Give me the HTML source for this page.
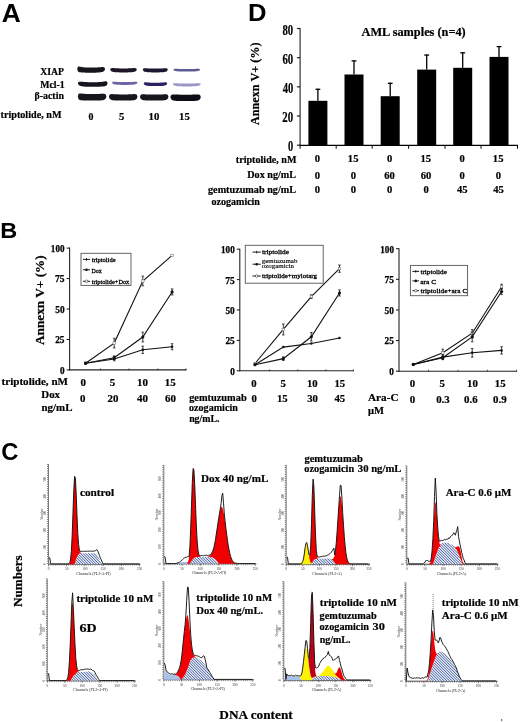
<!DOCTYPE html>
<html><head><meta charset="utf-8"><style>
html,body{margin:0;padding:0;background:#fff;width:520px;height:722px;overflow:hidden}
svg{display:block;will-change:transform}
</style></head><body>
<svg width="520" height="722" viewBox="0 0 520 722">
<defs>
<pattern id="hatch" patternUnits="userSpaceOnUse" width="1.75" height="4" patternTransform="rotate(45)">
<rect width="1.75" height="4" fill="#eaf0fa"/><rect x="0" y="0" width="0.8" height="4" fill="#3a5196"/></pattern>
<filter id="blur05" x="-10%" y="-50%" width="120%" height="200%"><feGaussianBlur stdDeviation="0.45"/></filter>
</defs>
<rect width="520" height="722" fill="#fff"/>
<text x="1.67" y="21.50" font-size="25.73" font-family='"Liberation Sans", sans-serif' font-weight="bold" fill="#000" textLength="19.02" lengthAdjust="spacingAndGlyphs">A</text>
<text x="248.11" y="21.20" font-size="24.71" font-family='"Liberation Sans", sans-serif' font-weight="bold" fill="#000" textLength="18.52" lengthAdjust="spacingAndGlyphs">D</text>
<text x="0.35" y="238.10" font-size="22.97" font-family='"Liberation Sans", sans-serif' font-weight="bold" fill="#000" textLength="16.99" lengthAdjust="spacingAndGlyphs">B</text>
<text x="1.35" y="460.30" font-size="24.79" font-family='"Liberation Sans", sans-serif' font-weight="bold" fill="#000" textLength="17.17" lengthAdjust="spacingAndGlyphs">C</text>
<text x="40.22" y="74.70" font-size="9.60" font-family='"Liberation Serif", serif' font-weight="bold" fill="#000" stroke="#000" stroke-width="0.2" textLength="23.83" lengthAdjust="spacingAndGlyphs">XIAP</text>
<text x="40.24" y="87.80" font-size="9.80" font-family='"Liberation Serif", serif' font-weight="bold" fill="#000" stroke="#000" stroke-width="0.2" textLength="24.45" lengthAdjust="spacingAndGlyphs">Mcl-1</text>
<text x="34.44" y="98.90" font-size="9.80" font-family='"Liberation Serif", serif' font-weight="bold" fill="#000" stroke="#000" stroke-width="0.2" textLength="29.50" lengthAdjust="spacingAndGlyphs">β-actin</text>
<text x="0.54" y="118.00" font-size="10.30" font-family='"Liberation Serif", serif' font-weight="bold" fill="#000" stroke="#000" stroke-width="0.2" textLength="60.94" lengthAdjust="spacingAndGlyphs">triptolide, nM</text>
<text x="88.62" y="119.70" font-size="10.36" font-family='"Liberation Serif", serif' font-weight="bold" fill="#000" stroke="#000" stroke-width="0.2" textLength="4.95" lengthAdjust="spacingAndGlyphs">0</text>
<text x="119.08" y="119.70" font-size="10.55" font-family='"Liberation Serif", serif' font-weight="bold" fill="#000" stroke="#000" stroke-width="0.2" textLength="5.31" lengthAdjust="spacingAndGlyphs">5</text>
<text x="148.64" y="119.70" font-size="10.36" font-family='"Liberation Serif", serif' font-weight="bold" fill="#000" stroke="#000" stroke-width="0.2" textLength="10.77" lengthAdjust="spacingAndGlyphs">10</text>
<text x="179.14" y="119.70" font-size="10.45" font-family='"Liberation Serif", serif' font-weight="bold" fill="#000" stroke="#000" stroke-width="0.2" textLength="10.75" lengthAdjust="spacingAndGlyphs">15</text>
<path d="M77.20,68.90 L77.90,66.82 L78.59,66.57 L79.29,66.59 L79.99,66.71 L80.69,66.84 L81.39,66.97 L82.08,67.09 L82.78,67.19 L83.48,67.27 L84.17,67.33 L84.87,67.38 L85.57,67.42 L86.27,67.45 L86.97,67.47 L87.66,67.48 L88.36,67.49 L89.06,67.50 L89.75,67.50 L90.45,67.50 L91.15,67.50 L91.85,67.50 L92.55,67.50 L93.24,67.50 L93.94,67.49 L94.64,67.48 L95.33,67.47 L96.03,67.45 L96.73,67.42 L97.43,67.39 L98.12,67.35 L98.82,67.30 L99.52,67.25 L100.22,67.19 L100.91,67.13 L101.61,67.07 L102.31,67.03 L103.01,67.03 L103.70,67.13 L104.40,67.42 L105.10,68.90 L105.10,68.90 L104.40,70.72 L103.70,71.32 L103.01,71.69 L102.31,71.94 L101.61,72.12 L100.91,72.25 L100.22,72.35 L99.52,72.43 L98.82,72.50 L98.12,72.55 L97.43,72.59 L96.73,72.62 L96.03,72.65 L95.33,72.67 L94.64,72.68 L93.94,72.69 L93.24,72.70 L92.55,72.70 L91.85,72.70 L91.15,72.70 L90.45,72.70 L89.75,72.70 L89.06,72.70 L88.36,72.69 L87.66,72.68 L86.97,72.67 L86.27,72.65 L85.57,72.63 L84.87,72.60 L84.17,72.57 L83.48,72.53 L82.78,72.49 L82.08,72.45 L81.39,72.40 L80.69,72.34 L79.99,72.26 L79.29,72.13 L78.59,71.88 L77.90,71.32 L77.20,68.90 Z" fill="#17121f" opacity="1.0" filter="url(#blur05)"/>
<path d="M110.20,69.50 L110.87,68.36 L111.53,68.13 L112.20,68.05 L112.86,68.05 L113.53,68.08 L114.19,68.12 L114.86,68.17 L115.52,68.21 L116.19,68.25 L116.85,68.29 L117.52,68.32 L118.18,68.34 L118.84,68.36 L119.51,68.38 L120.18,68.39 L120.84,68.39 L121.51,68.40 L122.17,68.40 L122.84,68.40 L123.50,68.40 L124.17,68.40 L124.83,68.40 L125.50,68.40 L126.16,68.39 L126.83,68.39 L127.49,68.38 L128.16,68.36 L128.82,68.34 L129.49,68.32 L130.15,68.29 L130.81,68.25 L131.48,68.21 L132.15,68.17 L132.81,68.12 L133.48,68.08 L134.14,68.05 L134.81,68.05 L135.47,68.13 L136.14,68.36 L136.80,69.50 L136.80,69.50 L136.14,70.90 L135.47,71.36 L134.81,71.64 L134.14,71.83 L133.48,71.96 L132.81,72.06 L132.15,72.14 L131.48,72.20 L130.81,72.25 L130.15,72.29 L129.49,72.32 L128.82,72.34 L128.16,72.36 L127.49,72.38 L126.83,72.39 L126.16,72.39 L125.50,72.40 L124.83,72.40 L124.17,72.40 L123.50,72.40 L122.84,72.40 L122.17,72.40 L121.51,72.40 L120.84,72.39 L120.18,72.39 L119.51,72.38 L118.84,72.36 L118.18,72.34 L117.52,72.32 L116.85,72.29 L116.19,72.25 L115.52,72.20 L114.86,72.14 L114.19,72.06 L113.53,71.96 L112.86,71.83 L112.20,71.64 L111.53,71.36 L110.87,70.90 L110.20,69.50 Z" fill="#1c1628" opacity="1.0" filter="url(#blur05)"/>
<path d="M142.80,69.60 L143.43,68.52 L144.05,68.31 L144.68,68.24 L145.30,68.24 L145.93,68.27 L146.55,68.32 L147.18,68.37 L147.80,68.41 L148.43,68.45 L149.05,68.49 L149.68,68.52 L150.30,68.54 L150.93,68.56 L151.55,68.58 L152.18,68.59 L152.80,68.59 L153.43,68.60 L154.05,68.60 L154.68,68.60 L155.30,68.60 L155.93,68.60 L156.55,68.60 L157.18,68.60 L157.80,68.59 L158.43,68.59 L159.05,68.58 L159.68,68.56 L160.30,68.54 L160.93,68.52 L161.55,68.49 L162.18,68.45 L162.80,68.41 L163.43,68.37 L164.05,68.32 L164.68,68.27 L165.30,68.24 L165.93,68.24 L166.55,68.31 L167.18,68.52 L167.80,69.60 L167.80,69.60 L167.18,70.93 L166.55,71.38 L165.93,71.65 L165.30,71.83 L164.68,71.97 L164.05,72.06 L163.43,72.14 L162.80,72.20 L162.18,72.25 L161.55,72.29 L160.93,72.32 L160.30,72.34 L159.68,72.36 L159.05,72.38 L158.43,72.39 L157.80,72.39 L157.18,72.40 L156.55,72.40 L155.93,72.40 L155.30,72.40 L154.68,72.40 L154.05,72.40 L153.43,72.40 L152.80,72.39 L152.18,72.39 L151.55,72.38 L150.93,72.36 L150.30,72.34 L149.68,72.32 L149.05,72.29 L148.43,72.25 L147.80,72.20 L147.18,72.14 L146.55,72.06 L145.93,71.97 L145.30,71.83 L144.68,71.65 L144.05,71.38 L143.43,70.93 L142.80,69.60 Z" fill="#1e1830" opacity="1.0" filter="url(#blur05)"/>
<path d="M173.30,69.60 L173.97,68.91 L174.65,68.78 L175.32,68.75 L175.99,68.76 L176.66,68.79 L177.34,68.83 L178.01,68.87 L178.68,68.90 L179.35,68.94 L180.03,68.96 L180.70,68.99 L181.37,69.01 L182.04,69.02 L182.72,69.03 L183.39,69.04 L184.06,69.04 L184.73,69.05 L185.41,69.05 L186.08,69.05 L186.75,69.05 L187.42,69.05 L188.09,69.05 L188.77,69.05 L189.44,69.04 L190.11,69.04 L190.78,69.03 L191.46,69.02 L192.13,69.01 L192.80,68.99 L193.47,68.96 L194.15,68.94 L194.82,68.90 L195.49,68.87 L196.16,68.83 L196.84,68.79 L197.51,68.76 L198.18,68.75 L198.85,68.78 L199.53,68.91 L200.20,69.60 L200.20,69.60 L199.53,70.49 L198.85,70.80 L198.18,70.99 L197.51,71.12 L196.84,71.22 L196.16,71.29 L195.49,71.35 L194.82,71.40 L194.15,71.43 L193.47,71.46 L192.80,71.49 L192.13,71.51 L191.46,71.52 L190.78,71.53 L190.11,71.54 L189.44,71.54 L188.77,71.55 L188.09,71.55 L187.42,71.55 L186.75,71.55 L186.08,71.55 L185.41,71.55 L184.73,71.55 L184.06,71.54 L183.39,71.54 L182.72,71.53 L182.04,71.52 L181.37,71.51 L180.70,71.49 L180.03,71.46 L179.35,71.43 L178.68,71.40 L178.01,71.35 L177.34,71.29 L176.66,71.22 L175.99,71.12 L175.32,70.99 L174.65,70.80 L173.97,70.49 L173.30,69.60 Z" fill="#5c5a92" opacity="1.0" filter="url(#blur05)"/>
<path d="M77.80,83.20 L78.55,81.93 L79.29,81.70 L80.03,81.64 L80.78,81.66 L81.52,81.72 L82.27,81.79 L83.02,81.86 L83.76,81.93 L84.50,81.99 L85.25,82.04 L85.99,82.08 L86.74,82.12 L87.48,82.14 L88.23,82.16 L88.97,82.18 L89.72,82.19 L90.47,82.20 L91.21,82.20 L91.95,82.20 L92.70,82.20 L93.44,82.20 L94.19,82.20 L94.94,82.20 L95.68,82.19 L96.42,82.18 L97.17,82.16 L97.91,82.14 L98.66,82.11 L99.41,82.07 L100.15,82.02 L100.89,81.96 L101.64,81.88 L102.38,81.79 L103.13,81.68 L103.88,81.56 L104.62,81.43 L105.36,81.33 L106.11,81.30 L106.85,81.50 L107.60,83.20 L107.60,83.20 L106.85,85.27 L106.11,85.80 L105.36,86.07 L104.62,86.24 L103.88,86.34 L103.13,86.43 L102.38,86.50 L101.64,86.56 L100.89,86.61 L100.15,86.65 L99.41,86.69 L98.66,86.72 L97.91,86.75 L97.17,86.77 L96.42,86.78 L95.68,86.79 L94.94,86.80 L94.19,86.80 L93.44,86.80 L92.70,86.80 L91.95,86.80 L91.21,86.80 L90.47,86.80 L89.72,86.79 L88.97,86.78 L88.23,86.76 L87.48,86.74 L86.74,86.72 L85.99,86.68 L85.25,86.64 L84.50,86.58 L83.76,86.51 L83.02,86.43 L82.27,86.32 L81.52,86.19 L80.78,86.01 L80.03,85.76 L79.29,85.41 L78.55,84.84 L77.80,83.20 Z" fill="#17121f" opacity="1.0" filter="url(#blur05)"/>
<path d="M112.00,82.60 L112.64,81.84 L113.28,81.71 L113.91,81.69 L114.55,81.72 L115.19,81.76 L115.83,81.81 L116.46,81.86 L117.10,81.91 L117.74,81.95 L118.38,81.99 L119.01,82.02 L119.65,82.04 L120.29,82.06 L120.92,82.08 L121.56,82.09 L122.20,82.09 L122.84,82.10 L123.47,82.10 L124.11,82.10 L124.75,82.10 L125.39,82.10 L126.03,82.10 L126.66,82.10 L127.30,82.09 L127.94,82.09 L128.57,82.08 L129.21,82.06 L129.85,82.04 L130.49,82.02 L131.12,81.99 L131.76,81.95 L132.40,81.91 L133.04,81.86 L133.68,81.81 L134.31,81.76 L134.95,81.72 L135.59,81.69 L136.22,81.71 L136.86,81.84 L137.50,82.60 L137.50,82.60 L136.86,83.62 L136.22,83.97 L135.59,84.20 L134.95,84.36 L134.31,84.48 L133.68,84.57 L133.04,84.64 L132.40,84.70 L131.76,84.75 L131.12,84.79 L130.49,84.82 L129.85,84.84 L129.21,84.86 L128.57,84.88 L127.94,84.89 L127.30,84.89 L126.66,84.90 L126.03,84.90 L125.39,84.90 L124.75,84.90 L124.11,84.90 L123.47,84.90 L122.84,84.90 L122.20,84.89 L121.56,84.89 L120.92,84.88 L120.29,84.86 L119.65,84.84 L119.01,84.82 L118.38,84.79 L117.74,84.75 L117.10,84.70 L116.46,84.64 L115.83,84.57 L115.19,84.48 L114.55,84.36 L113.91,84.20 L113.28,83.97 L112.64,83.62 L112.00,82.60 Z" fill="#6a66a8" opacity="1.0" filter="url(#blur05)"/>
<path d="M143.70,83.50 L144.29,82.55 L144.88,82.37 L145.46,82.32 L146.05,82.33 L146.64,82.37 L147.22,82.42 L147.81,82.46 L148.40,82.51 L148.99,82.55 L149.57,82.59 L150.16,82.62 L150.75,82.64 L151.34,82.66 L151.92,82.68 L152.51,82.69 L153.10,82.69 L153.69,82.70 L154.27,82.70 L154.86,82.70 L155.45,82.70 L156.04,82.70 L156.62,82.70 L157.21,82.70 L157.80,82.69 L158.39,82.69 L158.97,82.68 L159.56,82.66 L160.15,82.64 L160.74,82.62 L161.32,82.59 L161.91,82.55 L162.50,82.51 L163.09,82.46 L163.67,82.42 L164.26,82.37 L164.85,82.33 L165.44,82.32 L166.02,82.37 L166.61,82.55 L167.20,83.50 L167.20,83.50 L166.61,84.71 L166.02,85.12 L165.44,85.37 L164.85,85.55 L164.26,85.67 L163.67,85.77 L163.09,85.84 L162.50,85.90 L161.91,85.95 L161.32,85.99 L160.74,86.02 L160.15,86.04 L159.56,86.06 L158.97,86.08 L158.39,86.09 L157.80,86.09 L157.21,86.10 L156.62,86.10 L156.04,86.10 L155.45,86.10 L154.86,86.10 L154.27,86.10 L153.69,86.10 L153.10,86.09 L152.51,86.09 L151.92,86.08 L151.34,86.06 L150.75,86.04 L150.16,86.02 L149.57,85.99 L148.99,85.95 L148.40,85.90 L147.81,85.84 L147.22,85.77 L146.64,85.67 L146.05,85.55 L145.46,85.37 L144.88,85.12 L144.29,84.71 L143.70,83.50 Z" fill="#2a2462" opacity="1.0" filter="url(#blur05)"/>
<path d="M172.90,84.10 L173.60,83.34 L174.30,83.21 L174.99,83.19 L175.69,83.22 L176.39,83.26 L177.09,83.31 L177.78,83.36 L178.48,83.41 L179.18,83.45 L179.88,83.49 L180.57,83.52 L181.27,83.54 L181.97,83.56 L182.67,83.58 L183.36,83.59 L184.06,83.59 L184.76,83.60 L185.46,83.60 L186.15,83.60 L186.85,83.60 L187.55,83.60 L188.25,83.60 L188.94,83.60 L189.64,83.59 L190.34,83.59 L191.03,83.58 L191.73,83.56 L192.43,83.54 L193.13,83.52 L193.83,83.49 L194.52,83.45 L195.22,83.41 L195.92,83.36 L196.62,83.31 L197.31,83.26 L198.01,83.22 L198.71,83.19 L199.41,83.21 L200.10,83.34 L200.80,84.10 L200.80,84.10 L200.10,85.12 L199.41,85.47 L198.71,85.70 L198.01,85.86 L197.31,85.98 L196.62,86.07 L195.92,86.14 L195.22,86.20 L194.52,86.25 L193.83,86.29 L193.13,86.32 L192.43,86.34 L191.73,86.36 L191.03,86.38 L190.34,86.39 L189.64,86.39 L188.94,86.40 L188.25,86.40 L187.55,86.40 L186.85,86.40 L186.15,86.40 L185.46,86.40 L184.76,86.40 L184.06,86.39 L183.36,86.39 L182.67,86.38 L181.97,86.36 L181.27,86.34 L180.57,86.32 L179.88,86.29 L179.18,86.25 L178.48,86.20 L177.78,86.14 L177.09,86.07 L176.39,85.98 L175.69,85.86 L174.99,85.70 L174.30,85.47 L173.60,85.12 L172.90,84.10 Z" fill="#9a98c6" opacity="1.0" filter="url(#blur05)"/>
<path d="M77.80,96.40 L78.52,93.98 L79.23,93.56 L79.94,93.46 L80.66,93.48 L81.38,93.54 L82.09,93.62 L82.80,93.70 L83.52,93.77 L84.23,93.83 L84.95,93.87 L85.66,93.91 L86.38,93.94 L87.09,93.96 L87.81,93.97 L88.53,93.99 L89.24,93.99 L89.95,94.00 L90.67,94.00 L91.39,94.00 L92.10,94.00 L92.81,94.00 L93.53,94.00 L94.25,94.00 L94.96,93.99 L95.68,93.99 L96.39,93.98 L97.11,93.96 L97.82,93.94 L98.53,93.92 L99.25,93.89 L99.97,93.85 L100.68,93.82 L101.40,93.78 L102.11,93.74 L102.83,93.71 L103.54,93.72 L104.25,93.79 L104.97,93.98 L105.69,94.44 L106.40,96.40 L106.40,96.40 L105.69,98.62 L104.97,99.31 L104.25,99.70 L103.54,99.96 L102.83,100.13 L102.11,100.24 L101.40,100.33 L100.68,100.40 L99.97,100.45 L99.25,100.49 L98.53,100.52 L97.82,100.54 L97.11,100.56 L96.39,100.58 L95.68,100.59 L94.96,100.59 L94.25,100.60 L93.53,100.60 L92.81,100.60 L92.10,100.60 L91.39,100.60 L90.67,100.60 L89.95,100.60 L89.24,100.59 L88.53,100.59 L87.81,100.58 L87.09,100.56 L86.38,100.55 L85.66,100.53 L84.95,100.50 L84.23,100.47 L83.52,100.44 L82.80,100.40 L82.09,100.36 L81.38,100.30 L80.66,100.20 L79.94,100.04 L79.23,99.73 L78.52,99.08 L77.80,96.40 Z" fill="#17121f" opacity="1.0" filter="url(#blur05)"/>
<path d="M108.90,96.60 L109.62,94.76 L110.33,94.34 L111.05,94.17 L111.76,94.11 L112.48,94.11 L113.19,94.14 L113.91,94.17 L114.62,94.21 L115.34,94.25 L116.05,94.29 L116.77,94.32 L117.48,94.34 L118.20,94.36 L118.91,94.38 L119.62,94.39 L120.34,94.39 L121.06,94.40 L121.77,94.40 L122.48,94.40 L123.20,94.40 L123.92,94.40 L124.63,94.40 L125.34,94.40 L126.06,94.39 L126.78,94.39 L127.49,94.38 L128.21,94.36 L128.92,94.34 L129.63,94.32 L130.35,94.29 L131.06,94.25 L131.78,94.21 L132.50,94.17 L133.21,94.14 L133.93,94.11 L134.64,94.11 L135.35,94.17 L136.07,94.34 L136.78,94.76 L137.50,96.60 L137.50,96.60 L136.78,98.69 L136.07,99.35 L135.35,99.73 L134.64,99.97 L133.93,100.13 L133.21,100.25 L132.50,100.33 L131.78,100.40 L131.06,100.45 L130.35,100.49 L129.63,100.52 L128.92,100.54 L128.21,100.56 L127.49,100.58 L126.78,100.59 L126.06,100.59 L125.34,100.60 L124.63,100.60 L123.92,100.60 L123.20,100.60 L122.48,100.60 L121.77,100.60 L121.06,100.60 L120.34,100.59 L119.62,100.59 L118.91,100.58 L118.20,100.56 L117.48,100.54 L116.77,100.52 L116.05,100.49 L115.34,100.45 L114.62,100.40 L113.91,100.33 L113.19,100.25 L112.48,100.13 L111.76,99.97 L111.05,99.73 L110.33,99.35 L109.62,98.69 L108.90,96.60 Z" fill="#17121f" opacity="1.0" filter="url(#blur05)"/>
<path d="M139.90,96.70 L140.62,94.93 L141.33,94.52 L142.05,94.36 L142.76,94.30 L143.47,94.31 L144.19,94.33 L144.91,94.37 L145.62,94.41 L146.34,94.45 L147.05,94.49 L147.77,94.52 L148.48,94.54 L149.19,94.56 L149.91,94.58 L150.62,94.59 L151.34,94.59 L152.06,94.60 L152.77,94.60 L153.49,94.60 L154.20,94.60 L154.91,94.60 L155.63,94.60 L156.34,94.60 L157.06,94.59 L157.78,94.59 L158.49,94.58 L159.21,94.56 L159.92,94.54 L160.63,94.52 L161.35,94.49 L162.06,94.45 L162.78,94.41 L163.50,94.37 L164.21,94.33 L164.93,94.31 L165.64,94.30 L166.35,94.36 L167.07,94.52 L167.78,94.93 L168.50,96.70 L168.50,96.70 L167.78,98.73 L167.07,99.37 L166.35,99.74 L165.64,99.97 L164.93,100.13 L164.21,100.25 L163.50,100.33 L162.78,100.40 L162.06,100.45 L161.35,100.49 L160.63,100.52 L159.92,100.54 L159.21,100.56 L158.49,100.58 L157.78,100.59 L157.06,100.59 L156.34,100.60 L155.63,100.60 L154.91,100.60 L154.20,100.60 L153.49,100.60 L152.77,100.60 L152.06,100.60 L151.34,100.59 L150.62,100.59 L149.91,100.58 L149.19,100.56 L148.48,100.54 L147.77,100.52 L147.05,100.49 L146.34,100.45 L145.62,100.40 L144.91,100.33 L144.19,100.25 L143.47,100.13 L142.76,99.97 L142.05,99.74 L141.33,99.37 L140.62,98.73 L139.90,96.70 Z" fill="#17121f" opacity="1.0" filter="url(#blur05)"/>
<path d="M170.40,97.00 L171.16,95.10 L171.92,94.66 L172.68,94.48 L173.44,94.42 L174.20,94.41 L174.96,94.44 L175.72,94.47 L176.48,94.52 L177.24,94.55 L178.00,94.59 L178.76,94.62 L179.52,94.64 L180.28,94.66 L181.04,94.68 L181.80,94.69 L182.56,94.69 L183.32,94.70 L184.08,94.70 L184.84,94.70 L185.60,94.70 L186.36,94.70 L187.12,94.70 L187.88,94.70 L188.64,94.69 L189.40,94.69 L190.16,94.68 L190.92,94.66 L191.68,94.64 L192.44,94.62 L193.20,94.59 L193.96,94.55 L194.72,94.52 L195.48,94.47 L196.24,94.44 L197.00,94.41 L197.76,94.42 L198.52,94.48 L199.28,94.66 L200.04,95.10 L200.80,97.00 L200.80,97.00 L200.04,99.16 L199.28,99.83 L198.52,100.22 L197.76,100.46 L197.00,100.63 L196.24,100.75 L195.48,100.83 L194.72,100.90 L193.96,100.95 L193.20,100.99 L192.44,101.02 L191.68,101.04 L190.92,101.06 L190.16,101.08 L189.40,101.09 L188.64,101.09 L187.88,101.10 L187.12,101.10 L186.36,101.10 L185.60,101.10 L184.84,101.10 L184.08,101.10 L183.32,101.10 L182.56,101.09 L181.80,101.09 L181.04,101.08 L180.28,101.06 L179.52,101.04 L178.76,101.02 L178.00,100.99 L177.24,100.95 L176.48,100.90 L175.72,100.83 L174.96,100.75 L174.20,100.63 L173.44,100.46 L172.68,100.22 L171.92,99.83 L171.16,99.16 L170.40,97.00 Z" fill="#0e0a14" opacity="1.0" filter="url(#blur05)"/>
<line x1="300.1" y1="28.0" x2="300.1" y2="148.8" stroke="#333" stroke-width="1.2" />
<line x1="296.9" y1="145.2" x2="300.1" y2="145.2" stroke="#222" stroke-width="1.2" />
<text x="288.01" y="151.40" font-size="14.26" font-family='"Liberation Serif", serif' font-weight="bold" fill="#000" stroke="#000" stroke-width="0.2" textLength="5.19" lengthAdjust="spacingAndGlyphs">0</text>
<line x1="296.9" y1="116.02499999999999" x2="300.1" y2="116.02499999999999" stroke="#222" stroke-width="1.2" />
<text x="282.34" y="122.22" font-size="14.26" font-family='"Liberation Serif", serif' font-weight="bold" fill="#000" stroke="#000" stroke-width="0.2" textLength="10.87" lengthAdjust="spacingAndGlyphs">20</text>
<line x1="296.9" y1="86.85" x2="300.1" y2="86.85" stroke="#222" stroke-width="1.2" />
<text x="282.67" y="93.05" font-size="14.26" font-family='"Liberation Serif", serif' font-weight="bold" fill="#000" stroke="#000" stroke-width="0.2" textLength="10.53" lengthAdjust="spacingAndGlyphs">40</text>
<line x1="296.9" y1="57.675" x2="300.1" y2="57.675" stroke="#222" stroke-width="1.2" />
<text x="282.43" y="63.88" font-size="14.26" font-family='"Liberation Serif", serif' font-weight="bold" fill="#000" stroke="#000" stroke-width="0.2" textLength="10.78" lengthAdjust="spacingAndGlyphs">60</text>
<line x1="296.9" y1="28.5" x2="300.1" y2="28.5" stroke="#222" stroke-width="1.2" />
<text x="282.46" y="34.70" font-size="14.26" font-family='"Liberation Serif", serif' font-weight="bold" fill="#000" stroke="#000" stroke-width="0.2" textLength="10.75" lengthAdjust="spacingAndGlyphs">80</text>
<line x1="299.5" y1="145.39999999999998" x2="518" y2="145.39999999999998" stroke="#000" stroke-width="1.2" />
<line x1="336.2" y1="145.2" x2="336.2" y2="148.7" stroke="#000" stroke-width="1" />
<line x1="372.2" y1="145.2" x2="372.2" y2="148.7" stroke="#000" stroke-width="1" />
<line x1="408.6" y1="145.2" x2="408.6" y2="148.7" stroke="#000" stroke-width="1" />
<line x1="445" y1="145.2" x2="445" y2="148.7" stroke="#000" stroke-width="1" />
<line x1="481.0" y1="145.2" x2="481.0" y2="148.7" stroke="#000" stroke-width="1" />
<line x1="517.5" y1="145.2" x2="517.5" y2="148.7" stroke="#000" stroke-width="1" />
<text x="258.90" y="125.00" font-size="11.96" font-family='"Liberation Serif", serif' font-weight="bold" fill="#000" stroke="#000" stroke-width="0.2" textLength="82.51" lengthAdjust="spacingAndGlyphs" transform="rotate(-90 258.90 125.00)">Annexn V+ (%)</text>
<text x="361.50" y="35.70" font-size="11.60" font-family='"Liberation Serif", serif' font-weight="bold" fill="#000" stroke="#000" stroke-width="0.2" textLength="104.23" lengthAdjust="spacingAndGlyphs">AML samples (n=4)</text>
<rect x="308.4" y="100.8" width="19" height="44.39999999999999" fill="#000" />
<line x1="317.9" y1="100.8" x2="317.9" y2="88.8" stroke="#000" stroke-width="1.3" />
<line x1="315.5" y1="89.3" x2="320.29999999999995" y2="89.3" stroke="#000" stroke-width="1.3" />
<rect x="344.5" y="74.5" width="19" height="70.69999999999999" fill="#000" />
<line x1="354" y1="74.5" x2="354" y2="60.4" stroke="#000" stroke-width="1.3" />
<line x1="351.6" y1="60.9" x2="356.4" y2="60.9" stroke="#000" stroke-width="1.3" />
<rect x="380.7" y="96.2" width="19" height="48.999999999999986" fill="#000" />
<line x1="390.2" y1="96.2" x2="390.2" y2="82.8" stroke="#000" stroke-width="1.3" />
<line x1="387.8" y1="83.3" x2="392.59999999999997" y2="83.3" stroke="#000" stroke-width="1.3" />
<rect x="417.2" y="69.6" width="19" height="75.6" fill="#000" />
<line x1="426.7" y1="69.6" x2="426.7" y2="54.6" stroke="#000" stroke-width="1.3" />
<line x1="424.3" y1="55.1" x2="429.09999999999997" y2="55.1" stroke="#000" stroke-width="1.3" />
<rect x="453.2" y="67.8" width="19" height="77.39999999999999" fill="#000" />
<line x1="462.7" y1="67.8" x2="462.7" y2="52.3" stroke="#000" stroke-width="1.3" />
<line x1="460.3" y1="52.8" x2="465.09999999999997" y2="52.8" stroke="#000" stroke-width="1.3" />
<rect x="489.5" y="56.9" width="19" height="88.29999999999998" fill="#000" />
<line x1="499" y1="56.9" x2="499" y2="46.1" stroke="#000" stroke-width="1.3" />
<line x1="496.6" y1="46.6" x2="501.4" y2="46.6" stroke="#000" stroke-width="1.3" />
<text x="235.84" y="162.80" font-size="10.40" font-family='"Liberation Serif", serif' font-weight="bold" fill="#000" stroke="#000" stroke-width="0.2" textLength="60.64" lengthAdjust="spacingAndGlyphs">triptolide, nM</text>
<text x="247.24" y="177.80" font-size="10.40" font-family='"Liberation Serif", serif' font-weight="bold" fill="#000" stroke="#000" stroke-width="0.2" textLength="48.77" lengthAdjust="spacingAndGlyphs">Dox ng/mL</text>
<text x="208.04" y="193.30" font-size="10.00" font-family='"Liberation Serif", serif' font-weight="bold" fill="#000" stroke="#000" stroke-width="0.2" textLength="87.98" lengthAdjust="spacingAndGlyphs">gemtuzumab ng/mL</text>
<text x="211.62" y="204.90" font-size="10.00" font-family='"Liberation Serif", serif' font-weight="bold" fill="#000" stroke="#000" stroke-width="0.2" textLength="48.33" lengthAdjust="spacingAndGlyphs">ozogamicin</text>
<text x="314.65" y="162.00" font-size="10.30" font-family='"Liberation Serif", serif' font-weight="bold" fill="#000" stroke="#000" stroke-width="0.2" textLength="5.30" lengthAdjust="spacingAndGlyphs">0</text>
<text x="347.86" y="162.00" font-size="10.30" font-family='"Liberation Serif", serif' font-weight="bold" fill="#000" stroke="#000" stroke-width="0.2" textLength="10.61" lengthAdjust="spacingAndGlyphs">15</text>
<text x="386.95" y="162.00" font-size="10.30" font-family='"Liberation Serif", serif' font-weight="bold" fill="#000" stroke="#000" stroke-width="0.2" textLength="5.30" lengthAdjust="spacingAndGlyphs">0</text>
<text x="420.56" y="162.00" font-size="10.30" font-family='"Liberation Serif", serif' font-weight="bold" fill="#000" stroke="#000" stroke-width="0.2" textLength="10.61" lengthAdjust="spacingAndGlyphs">15</text>
<text x="459.45" y="162.00" font-size="10.30" font-family='"Liberation Serif", serif' font-weight="bold" fill="#000" stroke="#000" stroke-width="0.2" textLength="5.30" lengthAdjust="spacingAndGlyphs">0</text>
<text x="492.86" y="162.00" font-size="10.30" font-family='"Liberation Serif", serif' font-weight="bold" fill="#000" stroke="#000" stroke-width="0.2" textLength="10.61" lengthAdjust="spacingAndGlyphs">15</text>
<text x="314.65" y="178.70" font-size="10.30" font-family='"Liberation Serif", serif' font-weight="bold" fill="#000" stroke="#000" stroke-width="0.2" textLength="5.30" lengthAdjust="spacingAndGlyphs">0</text>
<text x="350.75" y="178.70" font-size="10.30" font-family='"Liberation Serif", serif' font-weight="bold" fill="#000" stroke="#000" stroke-width="0.2" textLength="5.30" lengthAdjust="spacingAndGlyphs">0</text>
<text x="384.32" y="178.70" font-size="10.30" font-family='"Liberation Serif", serif' font-weight="bold" fill="#000" stroke="#000" stroke-width="0.2" textLength="10.61" lengthAdjust="spacingAndGlyphs">60</text>
<text x="420.82" y="178.70" font-size="10.30" font-family='"Liberation Serif", serif' font-weight="bold" fill="#000" stroke="#000" stroke-width="0.2" textLength="10.61" lengthAdjust="spacingAndGlyphs">60</text>
<text x="459.45" y="178.70" font-size="10.30" font-family='"Liberation Serif", serif' font-weight="bold" fill="#000" stroke="#000" stroke-width="0.2" textLength="5.30" lengthAdjust="spacingAndGlyphs">0</text>
<text x="495.75" y="178.70" font-size="10.30" font-family='"Liberation Serif", serif' font-weight="bold" fill="#000" stroke="#000" stroke-width="0.2" textLength="5.30" lengthAdjust="spacingAndGlyphs">0</text>
<text x="314.65" y="193.10" font-size="10.30" font-family='"Liberation Serif", serif' font-weight="bold" fill="#000" stroke="#000" stroke-width="0.2" textLength="5.30" lengthAdjust="spacingAndGlyphs">0</text>
<text x="350.75" y="193.10" font-size="10.30" font-family='"Liberation Serif", serif' font-weight="bold" fill="#000" stroke="#000" stroke-width="0.2" textLength="5.30" lengthAdjust="spacingAndGlyphs">0</text>
<text x="386.95" y="193.10" font-size="10.30" font-family='"Liberation Serif", serif' font-weight="bold" fill="#000" stroke="#000" stroke-width="0.2" textLength="5.30" lengthAdjust="spacingAndGlyphs">0</text>
<text x="423.45" y="193.10" font-size="10.30" font-family='"Liberation Serif", serif' font-weight="bold" fill="#000" stroke="#000" stroke-width="0.2" textLength="5.30" lengthAdjust="spacingAndGlyphs">0</text>
<text x="456.92" y="193.10" font-size="10.30" font-family='"Liberation Serif", serif' font-weight="bold" fill="#000" stroke="#000" stroke-width="0.2" textLength="10.61" lengthAdjust="spacingAndGlyphs">45</text>
<text x="493.22" y="193.10" font-size="10.30" font-family='"Liberation Serif", serif' font-weight="bold" fill="#000" stroke="#000" stroke-width="0.2" textLength="10.61" lengthAdjust="spacingAndGlyphs">45</text>
<line x1="69.6" y1="247.6" x2="69.6" y2="370.4" stroke="#222" stroke-width="1.1" />
<line x1="69.1" y1="369.9" x2="186.4" y2="369.9" stroke="#222" stroke-width="1.1" />
<line x1="66.6" y1="369.9" x2="69.6" y2="369.9" stroke="#222" stroke-width="1.1" />
<text x="59.95" y="373.80" font-size="9.31" font-family='"Liberation Serif", serif' font-weight="bold" fill="#000" stroke="#000" stroke-width="0.25" textLength="4.60" lengthAdjust="spacingAndGlyphs">0</text>
<line x1="66.6" y1="339.45" x2="69.6" y2="339.45" stroke="#222" stroke-width="1.1" />
<text x="55.21" y="343.35" font-size="9.37" font-family='"Liberation Serif", serif' font-weight="bold" fill="#000" stroke="#000" stroke-width="0.25" textLength="9.33" lengthAdjust="spacingAndGlyphs">25</text>
<line x1="66.6" y1="309.0" x2="69.6" y2="309.0" stroke="#222" stroke-width="1.1" />
<text x="55.23" y="312.90" font-size="9.31" font-family='"Liberation Serif", serif' font-weight="bold" fill="#000" stroke="#000" stroke-width="0.25" textLength="9.33" lengthAdjust="spacingAndGlyphs">50</text>
<line x1="66.6" y1="278.55" x2="69.6" y2="278.55" stroke="#222" stroke-width="1.1" />
<text x="55.07" y="282.45" font-size="9.48" font-family='"Liberation Serif", serif' font-weight="bold" fill="#000" stroke="#000" stroke-width="0.25" textLength="9.47" lengthAdjust="spacingAndGlyphs">75</text>
<line x1="66.6" y1="248.10000000000002" x2="69.6" y2="248.10000000000002" stroke="#222" stroke-width="1.1" />
<text x="50.87" y="252.00" font-size="9.31" font-family='"Liberation Serif", serif' font-weight="bold" fill="#000" stroke="#000" stroke-width="0.25" textLength="13.68" lengthAdjust="spacingAndGlyphs">100</text>
<line x1="100.4" y1="368.4" x2="100.4" y2="370.4" stroke="#333" stroke-width="0.8" />
<line x1="129.0" y1="368.4" x2="129.0" y2="370.4" stroke="#333" stroke-width="0.8" />
<line x1="157.95" y1="368.4" x2="157.95" y2="370.4" stroke="#333" stroke-width="0.8" />
<line x1="186.0" y1="368.4" x2="186.0" y2="370.4" stroke="#333" stroke-width="0.8" />
<polyline points="85.6,363.20 114.2,343.10 142.8,280.99 172.1,255.41" fill="none" stroke="#111" stroke-width="1.1"/>
<rect x="84.40" y="362.00" width="2.4" height="2.4" fill="#fff" stroke="#777" stroke-width="0.6"/>
<line x1="114.2" y1="338.23199999999997" x2="114.2" y2="347.976" stroke="#222" stroke-width="0.9" />
<line x1="112.9" y1="338.23199999999997" x2="115.5" y2="338.23199999999997" stroke="#222" stroke-width="0.8" />
<line x1="112.9" y1="347.976" x2="115.5" y2="347.976" stroke="#222" stroke-width="0.8" />
<rect x="113.00" y="341.90" width="2.4" height="2.4" fill="#fff" stroke="#777" stroke-width="0.6"/>
<line x1="142.8" y1="276.114" x2="142.8" y2="285.858" stroke="#222" stroke-width="0.9" />
<line x1="141.5" y1="276.114" x2="144.10000000000002" y2="276.114" stroke="#222" stroke-width="0.8" />
<line x1="141.5" y1="285.858" x2="144.10000000000002" y2="285.858" stroke="#222" stroke-width="0.8" />
<rect x="141.60" y="279.79" width="2.4" height="2.4" fill="#fff" stroke="#777" stroke-width="0.6"/>
<rect x="170.90" y="254.21" width="2.4" height="2.4" fill="#fff" stroke="#777" stroke-width="0.6"/>
<polyline points="85.6,363.20 114.2,357.72 142.8,337.01 172.1,291.95" fill="none" stroke="#111" stroke-width="1.1"/>
<circle cx="85.6" cy="363.20" r="1.6" fill="#111"/>
<line x1="114.2" y1="355.893" x2="114.2" y2="359.54699999999997" stroke="#222" stroke-width="0.9" />
<line x1="112.9" y1="355.893" x2="115.5" y2="355.893" stroke="#222" stroke-width="0.8" />
<line x1="112.9" y1="359.54699999999997" x2="115.5" y2="359.54699999999997" stroke="#222" stroke-width="0.8" />
<circle cx="114.2" cy="357.72" r="1.6" fill="#111"/>
<line x1="142.8" y1="332.142" x2="142.8" y2="341.88599999999997" stroke="#222" stroke-width="0.9" />
<line x1="141.5" y1="332.142" x2="144.10000000000002" y2="332.142" stroke="#222" stroke-width="0.8" />
<line x1="141.5" y1="341.88599999999997" x2="144.10000000000002" y2="341.88599999999997" stroke="#222" stroke-width="0.8" />
<circle cx="142.8" cy="337.01" r="1.6" fill="#111"/>
<line x1="172.1" y1="288.903" x2="172.1" y2="294.993" stroke="#222" stroke-width="0.9" />
<line x1="170.79999999999998" y1="288.903" x2="173.4" y2="288.903" stroke="#222" stroke-width="0.8" />
<line x1="170.79999999999998" y1="294.993" x2="173.4" y2="294.993" stroke="#222" stroke-width="0.8" />
<circle cx="172.1" cy="291.95" r="1.6" fill="#111"/>
<polyline points="85.6,363.20 114.2,358.94 142.8,349.80 172.1,346.76" fill="none" stroke="#111" stroke-width="1.1"/>
<circle cx="85.6" cy="363.20" r="1.25" fill="#111"/>
<line x1="114.2" y1="357.111" x2="114.2" y2="360.765" stroke="#222" stroke-width="0.9" />
<line x1="112.9" y1="357.111" x2="115.5" y2="357.111" stroke="#222" stroke-width="0.8" />
<line x1="112.9" y1="360.765" x2="115.5" y2="360.765" stroke="#222" stroke-width="0.8" />
<circle cx="114.2" cy="358.94" r="1.25" fill="#111"/>
<line x1="142.8" y1="346.149" x2="142.8" y2="353.457" stroke="#222" stroke-width="0.9" />
<line x1="141.5" y1="346.149" x2="144.10000000000002" y2="346.149" stroke="#222" stroke-width="0.8" />
<line x1="141.5" y1="353.457" x2="144.10000000000002" y2="353.457" stroke="#222" stroke-width="0.8" />
<circle cx="142.8" cy="349.80" r="1.25" fill="#111"/>
<line x1="172.1" y1="343.71299999999997" x2="172.1" y2="349.803" stroke="#222" stroke-width="0.9" />
<line x1="170.79999999999998" y1="343.71299999999997" x2="173.4" y2="343.71299999999997" stroke="#222" stroke-width="0.8" />
<line x1="170.79999999999998" y1="349.803" x2="173.4" y2="349.803" stroke="#222" stroke-width="0.8" />
<circle cx="172.1" cy="346.76" r="1.25" fill="#111"/>
<rect x="81" y="253.3" width="50" height="32.099999999999966" fill="#fff" stroke="#555" stroke-width="0.9"/>
<line x1="83" y1="259.4" x2="90" y2="259.4" stroke="#000" stroke-width="0.9" />
<line x1="86.5" y1="258.09999999999997" x2="86.5" y2="260.7" stroke="#000" stroke-width="0.8" />
<text x="91.65" y="262.30" font-size="7.00" font-family='"Liberation Serif", serif' font-weight="normal" fill="#000" stroke="#000" stroke-width="0.3" textLength="23.98" lengthAdjust="spacingAndGlyphs">triptolide</text>
<line x1="83" y1="269.8" x2="90" y2="269.8" stroke="#000" stroke-width="0.9" />
<circle cx="86.5" cy="269.8" r="1.3" fill="#111"/>
<text x="91.53" y="272.70" font-size="7.00" font-family='"Liberation Serif", serif' font-weight="normal" fill="#000" stroke="#000" stroke-width="0.3" textLength="10.34" lengthAdjust="spacingAndGlyphs">Dox</text>
<line x1="83" y1="281.3" x2="90" y2="281.3" stroke="#000" stroke-width="0.9" />
<circle cx="86.5" cy="281.3" r="1.3" fill="#fff" stroke="#333" stroke-width="0.6"/>
<text x="91.65" y="283.60" font-size="7.00" font-family='"Liberation Serif", serif' font-weight="normal" fill="#000" stroke="#000" stroke-width="0.3" textLength="37.63" lengthAdjust="spacingAndGlyphs">triptolide+Dox</text>
<text x="43.70" y="345.01" font-size="12.10" font-family='"Liberation Serif", serif' font-weight="bold" fill="#000" stroke="#000" stroke-width="0.2" textLength="89.77" lengthAdjust="spacingAndGlyphs" transform="rotate(-90 43.70 345.01)">Annexn V+ (%)</text>
<text x="1.62" y="385.40" font-size="10.70" font-family='"Liberation Serif", serif' font-weight="bold" fill="#000" stroke="#000" stroke-width="0.2" textLength="66.38" lengthAdjust="spacingAndGlyphs">triptolide, nM</text>
<text x="41.33" y="397.80" font-size="10.50" font-family='"Liberation Serif", serif' font-weight="bold" fill="#000" stroke="#000" stroke-width="0.2" textLength="18.72" lengthAdjust="spacingAndGlyphs">Dox</text>
<text x="41.52" y="410.50" font-size="10.50" font-family='"Liberation Serif", serif' font-weight="bold" fill="#000" stroke="#000" stroke-width="0.2" textLength="30.92" lengthAdjust="spacingAndGlyphs">ng/mL</text>
<text x="80.52" y="386.40" font-size="10.60" font-family='"Liberation Serif", serif' font-weight="bold" fill="#000" stroke="#000" stroke-width="0.2" textLength="5.46" lengthAdjust="spacingAndGlyphs">0</text>
<text x="80.02" y="402.00" font-size="10.60" font-family='"Liberation Serif", serif' font-weight="bold" fill="#000" stroke="#000" stroke-width="0.2" textLength="5.46" lengthAdjust="spacingAndGlyphs">0</text>
<text x="109.80" y="386.40" font-size="10.60" font-family='"Liberation Serif", serif' font-weight="bold" fill="#000" stroke="#000" stroke-width="0.2" textLength="5.46" lengthAdjust="spacingAndGlyphs">5</text>
<text x="107.62" y="402.00" font-size="10.60" font-family='"Liberation Serif", serif' font-weight="bold" fill="#000" stroke="#000" stroke-width="0.2" textLength="10.92" lengthAdjust="spacingAndGlyphs">20</text>
<text x="137.01" y="386.40" font-size="10.60" font-family='"Liberation Serif", serif' font-weight="bold" fill="#000" stroke="#000" stroke-width="0.2" textLength="10.92" lengthAdjust="spacingAndGlyphs">10</text>
<text x="137.08" y="402.00" font-size="10.60" font-family='"Liberation Serif", serif' font-weight="bold" fill="#000" stroke="#000" stroke-width="0.2" textLength="10.92" lengthAdjust="spacingAndGlyphs">40</text>
<text x="164.80" y="386.40" font-size="10.60" font-family='"Liberation Serif", serif' font-weight="bold" fill="#000" stroke="#000" stroke-width="0.2" textLength="10.92" lengthAdjust="spacingAndGlyphs">15</text>
<text x="165.06" y="402.00" font-size="10.60" font-family='"Liberation Serif", serif' font-weight="bold" fill="#000" stroke="#000" stroke-width="0.2" textLength="10.92" lengthAdjust="spacingAndGlyphs">60</text>
<line x1="239.8" y1="248.7" x2="239.8" y2="371.3" stroke="#222" stroke-width="1.1" />
<line x1="239.3" y1="370.8" x2="353.8" y2="370.8" stroke="#222" stroke-width="1.1" />
<line x1="236.8" y1="370.8" x2="239.8" y2="370.8" stroke="#222" stroke-width="1.1" />
<text x="230.15" y="374.70" font-size="9.31" font-family='"Liberation Serif", serif' font-weight="bold" fill="#000" stroke="#000" stroke-width="0.25" textLength="4.60" lengthAdjust="spacingAndGlyphs">0</text>
<line x1="236.8" y1="340.4" x2="239.8" y2="340.4" stroke="#222" stroke-width="1.1" />
<text x="225.41" y="344.30" font-size="9.37" font-family='"Liberation Serif", serif' font-weight="bold" fill="#000" stroke="#000" stroke-width="0.25" textLength="9.33" lengthAdjust="spacingAndGlyphs">25</text>
<line x1="236.8" y1="310.0" x2="239.8" y2="310.0" stroke="#222" stroke-width="1.1" />
<text x="225.43" y="313.90" font-size="9.31" font-family='"Liberation Serif", serif' font-weight="bold" fill="#000" stroke="#000" stroke-width="0.25" textLength="9.33" lengthAdjust="spacingAndGlyphs">50</text>
<line x1="236.8" y1="279.6" x2="239.8" y2="279.6" stroke="#222" stroke-width="1.1" />
<text x="225.27" y="283.50" font-size="9.48" font-family='"Liberation Serif", serif' font-weight="bold" fill="#000" stroke="#000" stroke-width="0.25" textLength="9.47" lengthAdjust="spacingAndGlyphs">75</text>
<line x1="236.8" y1="249.2" x2="239.8" y2="249.2" stroke="#222" stroke-width="1.1" />
<text x="221.07" y="253.10" font-size="9.31" font-family='"Liberation Serif", serif' font-weight="bold" fill="#000" stroke="#000" stroke-width="0.25" textLength="13.68" lengthAdjust="spacingAndGlyphs">100</text>
<line x1="269.65" y1="369.3" x2="269.65" y2="371.3" stroke="#333" stroke-width="0.8" />
<line x1="297.8" y1="369.3" x2="297.8" y2="371.3" stroke="#333" stroke-width="0.8" />
<line x1="325.9" y1="369.3" x2="325.9" y2="371.3" stroke="#333" stroke-width="0.8" />
<line x1="353.40000000000003" y1="369.3" x2="353.40000000000003" y2="371.3" stroke="#333" stroke-width="0.8" />
<polyline points="255,363.50 283.3,329.46 311.3,296.62 339.5,268.66" fill="none" stroke="#111" stroke-width="1.1"/>
<rect x="253.80" y="362.30" width="2.4" height="2.4" fill="#fff" stroke="#777" stroke-width="0.6"/>
<line x1="283.3" y1="323.984" x2="283.3" y2="334.928" stroke="#222" stroke-width="0.9" />
<line x1="282.0" y1="323.984" x2="284.6" y2="323.984" stroke="#222" stroke-width="0.8" />
<line x1="282.0" y1="334.928" x2="284.6" y2="334.928" stroke="#222" stroke-width="0.8" />
<rect x="282.10" y="328.26" width="2.4" height="2.4" fill="#fff" stroke="#777" stroke-width="0.6"/>
<line x1="311.3" y1="294.8" x2="311.3" y2="298.448" stroke="#222" stroke-width="0.9" />
<line x1="310.0" y1="294.8" x2="312.6" y2="294.8" stroke="#222" stroke-width="0.8" />
<line x1="310.0" y1="298.448" x2="312.6" y2="298.448" stroke="#222" stroke-width="0.8" />
<rect x="310.10" y="295.42" width="2.4" height="2.4" fill="#fff" stroke="#777" stroke-width="0.6"/>
<line x1="339.5" y1="265.008" x2="339.5" y2="272.304" stroke="#222" stroke-width="0.9" />
<line x1="338.2" y1="265.008" x2="340.8" y2="265.008" stroke="#222" stroke-width="0.8" />
<line x1="338.2" y1="272.304" x2="340.8" y2="272.304" stroke="#222" stroke-width="0.8" />
<rect x="338.30" y="267.46" width="2.4" height="2.4" fill="#fff" stroke="#777" stroke-width="0.6"/>
<polyline points="255,364.72 283.3,358.64 311.3,336.75 339.5,292.98" fill="none" stroke="#111" stroke-width="1.1"/>
<circle cx="255" cy="364.72" r="1.6" fill="#111"/>
<line x1="283.3" y1="356.81600000000003" x2="283.3" y2="360.464" stroke="#222" stroke-width="0.9" />
<line x1="282.0" y1="356.81600000000003" x2="284.6" y2="356.81600000000003" stroke="#222" stroke-width="0.8" />
<line x1="282.0" y1="360.464" x2="284.6" y2="360.464" stroke="#222" stroke-width="0.8" />
<circle cx="283.3" cy="358.64" r="1.6" fill="#111"/>
<line x1="311.3" y1="332.496" x2="311.3" y2="341.008" stroke="#222" stroke-width="0.9" />
<line x1="310.0" y1="332.496" x2="312.6" y2="332.496" stroke="#222" stroke-width="0.8" />
<line x1="310.0" y1="341.008" x2="312.6" y2="341.008" stroke="#222" stroke-width="0.8" />
<circle cx="311.3" cy="336.75" r="1.6" fill="#111"/>
<line x1="339.5" y1="289.936" x2="339.5" y2="296.016" stroke="#222" stroke-width="0.9" />
<line x1="338.2" y1="289.936" x2="340.8" y2="289.936" stroke="#222" stroke-width="0.8" />
<line x1="338.2" y1="296.016" x2="340.8" y2="296.016" stroke="#222" stroke-width="0.8" />
<circle cx="339.5" cy="292.98" r="1.6" fill="#111"/>
<polyline points="255,364.72 283.3,347.09 311.3,343.44 339.5,337.97" fill="none" stroke="#111" stroke-width="1.1"/>
<circle cx="255" cy="364.72" r="1.25" fill="#111"/>
<circle cx="283.3" cy="347.09" r="1.25" fill="#111"/>
<circle cx="311.3" cy="343.44" r="1.25" fill="#111"/>
<circle cx="339.5" cy="337.97" r="1.25" fill="#111"/>
<rect x="245.3" y="245.3" width="77.89999999999998" height="37.89999999999998" fill="#fff" stroke="#555" stroke-width="0.9"/>
<line x1="252.5" y1="252.1" x2="260.8" y2="252.1" stroke="#000" stroke-width="0.9" />
<line x1="256.65" y1="250.79999999999998" x2="256.65" y2="253.4" stroke="#000" stroke-width="0.8" />
<text x="262.04" y="254.20" font-size="7.00" font-family='"Liberation Serif", serif' font-weight="normal" fill="#000" stroke="#000" stroke-width="0.3" textLength="27.01" lengthAdjust="spacingAndGlyphs">triptolide</text>
<line x1="252.5" y1="264.2" x2="260.8" y2="264.2" stroke="#000" stroke-width="0.9" />
<circle cx="256.65" cy="264.2" r="1.3" fill="#111"/>
<text x="261.81" y="262.50" font-size="6.00" font-family='"Liberation Serif", serif' font-weight="normal" fill="#000" stroke="#000" stroke-width="0.12" textLength="35.54" lengthAdjust="spacingAndGlyphs">gemtuzumab</text>
<text x="261.84" y="268.00" font-size="6.00" font-family='"Liberation Serif", serif' font-weight="normal" fill="#000" stroke="#000" stroke-width="0.12" textLength="32.25" lengthAdjust="spacingAndGlyphs">ozogamicin</text>
<line x1="252.5" y1="276" x2="260.8" y2="276" stroke="#000" stroke-width="0.9" />
<circle cx="256.65" cy="276" r="1.3" fill="#fff" stroke="#333" stroke-width="0.6"/>
<text x="262.04" y="278.40" font-size="7.00" font-family='"Liberation Serif", serif' font-weight="normal" fill="#000" stroke="#000" stroke-width="0.3" textLength="55.09" lengthAdjust="spacingAndGlyphs">triptolide+mylotarg</text>
<text x="251.22" y="386.60" font-size="10.40" font-family='"Liberation Serif", serif' font-weight="bold" fill="#000" stroke="#000" stroke-width="0.2" textLength="5.36" lengthAdjust="spacingAndGlyphs">0</text>
<text x="251.47" y="401.80" font-size="10.40" font-family='"Liberation Serif", serif' font-weight="bold" fill="#000" stroke="#000" stroke-width="0.2" textLength="5.36" lengthAdjust="spacingAndGlyphs">0</text>
<text x="280.60" y="386.60" font-size="10.40" font-family='"Liberation Serif", serif' font-weight="bold" fill="#000" stroke="#000" stroke-width="0.2" textLength="5.36" lengthAdjust="spacingAndGlyphs">5</text>
<text x="276.91" y="401.80" font-size="10.40" font-family='"Liberation Serif", serif' font-weight="bold" fill="#000" stroke="#000" stroke-width="0.2" textLength="10.71" lengthAdjust="spacingAndGlyphs">15</text>
<text x="307.02" y="386.60" font-size="10.40" font-family='"Liberation Serif", serif' font-weight="bold" fill="#000" stroke="#000" stroke-width="0.2" textLength="10.71" lengthAdjust="spacingAndGlyphs">10</text>
<text x="307.25" y="401.80" font-size="10.40" font-family='"Liberation Serif", serif' font-weight="bold" fill="#000" stroke="#000" stroke-width="0.2" textLength="10.71" lengthAdjust="spacingAndGlyphs">30</text>
<text x="334.51" y="386.60" font-size="10.40" font-family='"Liberation Serif", serif' font-weight="bold" fill="#000" stroke="#000" stroke-width="0.2" textLength="10.71" lengthAdjust="spacingAndGlyphs">15</text>
<text x="334.52" y="401.80" font-size="10.40" font-family='"Liberation Serif", serif' font-weight="bold" fill="#000" stroke="#000" stroke-width="0.2" textLength="10.71" lengthAdjust="spacingAndGlyphs">45</text>
<text x="189.13" y="400.70" font-size="10.50" font-family='"Liberation Serif", serif' font-weight="bold" fill="#000" stroke="#000" stroke-width="0.2" textLength="57.58" lengthAdjust="spacingAndGlyphs">gemtuzumab</text>
<text x="189.02" y="411.40" font-size="10.30" font-family='"Liberation Serif", serif' font-weight="bold" fill="#000" stroke="#000" stroke-width="0.2" textLength="48.83" lengthAdjust="spacingAndGlyphs">ozogamicin</text>
<text x="189.14" y="421.80" font-size="10.20" font-family='"Liberation Serif", serif' font-weight="bold" fill="#000" stroke="#000" stroke-width="0.2" textLength="30.47" lengthAdjust="spacingAndGlyphs">ng/mL.</text>
<line x1="399" y1="248.2" x2="399" y2="371.7" stroke="#222" stroke-width="1.1" />
<line x1="398.5" y1="371.2" x2="517" y2="371.2" stroke="#222" stroke-width="1.1" />
<line x1="396" y1="371.2" x2="399" y2="371.2" stroke="#222" stroke-width="1.1" />
<text x="389.35" y="375.10" font-size="9.31" font-family='"Liberation Serif", serif' font-weight="bold" fill="#000" stroke="#000" stroke-width="0.25" textLength="4.60" lengthAdjust="spacingAndGlyphs">0</text>
<line x1="396" y1="340.575" x2="399" y2="340.575" stroke="#222" stroke-width="1.1" />
<text x="384.61" y="344.47" font-size="9.37" font-family='"Liberation Serif", serif' font-weight="bold" fill="#000" stroke="#000" stroke-width="0.25" textLength="9.33" lengthAdjust="spacingAndGlyphs">25</text>
<line x1="396" y1="309.95" x2="399" y2="309.95" stroke="#222" stroke-width="1.1" />
<text x="384.63" y="313.85" font-size="9.31" font-family='"Liberation Serif", serif' font-weight="bold" fill="#000" stroke="#000" stroke-width="0.25" textLength="9.33" lengthAdjust="spacingAndGlyphs">50</text>
<line x1="396" y1="279.325" x2="399" y2="279.325" stroke="#222" stroke-width="1.1" />
<text x="384.47" y="283.22" font-size="9.48" font-family='"Liberation Serif", serif' font-weight="bold" fill="#000" stroke="#000" stroke-width="0.25" textLength="9.47" lengthAdjust="spacingAndGlyphs">75</text>
<line x1="396" y1="248.7" x2="399" y2="248.7" stroke="#222" stroke-width="1.1" />
<text x="380.27" y="252.60" font-size="9.31" font-family='"Liberation Serif", serif' font-weight="bold" fill="#000" stroke="#000" stroke-width="0.25" textLength="13.68" lengthAdjust="spacingAndGlyphs">100</text>
<line x1="428.55" y1="369.7" x2="428.55" y2="371.7" stroke="#333" stroke-width="0.8" />
<line x1="458.0" y1="369.7" x2="458.0" y2="371.7" stroke="#333" stroke-width="0.8" />
<line x1="487.4" y1="369.7" x2="487.4" y2="371.7" stroke="#333" stroke-width="0.8" />
<line x1="516.6" y1="369.7" x2="516.6" y2="371.7" stroke="#333" stroke-width="0.8" />
<polyline points="413.3,364.46 442.8,352.82 472.2,333.22 501.6,286.67" fill="none" stroke="#111" stroke-width="1.1"/>
<rect x="412.10" y="363.26" width="2.4" height="2.4" fill="#fff" stroke="#777" stroke-width="0.6"/>
<line x1="442.8" y1="349.15" x2="442.8" y2="356.5" stroke="#222" stroke-width="0.9" />
<line x1="441.5" y1="349.15" x2="444.1" y2="349.15" stroke="#222" stroke-width="0.8" />
<line x1="441.5" y1="356.5" x2="444.1" y2="356.5" stroke="#222" stroke-width="0.8" />
<rect x="441.60" y="351.62" width="2.4" height="2.4" fill="#fff" stroke="#777" stroke-width="0.6"/>
<line x1="472.2" y1="329.54999999999995" x2="472.2" y2="336.9" stroke="#222" stroke-width="0.9" />
<line x1="470.9" y1="329.54999999999995" x2="473.5" y2="329.54999999999995" stroke="#222" stroke-width="0.8" />
<line x1="470.9" y1="336.9" x2="473.5" y2="336.9" stroke="#222" stroke-width="0.8" />
<rect x="471.00" y="332.02" width="2.4" height="2.4" fill="#fff" stroke="#777" stroke-width="0.6"/>
<line x1="501.6" y1="284.22499999999997" x2="501.6" y2="289.125" stroke="#222" stroke-width="0.9" />
<line x1="500.3" y1="284.22499999999997" x2="502.90000000000003" y2="284.22499999999997" stroke="#222" stroke-width="0.8" />
<line x1="500.3" y1="289.125" x2="502.90000000000003" y2="289.125" stroke="#222" stroke-width="0.8" />
<rect x="500.40" y="285.47" width="2.4" height="2.4" fill="#fff" stroke="#777" stroke-width="0.6"/>
<polyline points="413.3,364.46 442.8,357.72 472.2,336.90 501.6,291.57" fill="none" stroke="#111" stroke-width="1.1"/>
<circle cx="413.3" cy="364.46" r="1.6" fill="#111"/>
<line x1="442.8" y1="355.8875" x2="442.8" y2="359.5625" stroke="#222" stroke-width="0.9" />
<line x1="441.5" y1="355.8875" x2="444.1" y2="355.8875" stroke="#222" stroke-width="0.8" />
<line x1="441.5" y1="359.5625" x2="444.1" y2="359.5625" stroke="#222" stroke-width="0.8" />
<circle cx="442.8" cy="357.72" r="1.6" fill="#111"/>
<line x1="472.2" y1="332.0" x2="472.2" y2="341.8" stroke="#222" stroke-width="0.9" />
<line x1="470.9" y1="332.0" x2="473.5" y2="332.0" stroke="#222" stroke-width="0.8" />
<line x1="470.9" y1="341.8" x2="473.5" y2="341.8" stroke="#222" stroke-width="0.8" />
<circle cx="472.2" cy="336.90" r="1.6" fill="#111"/>
<line x1="501.6" y1="288.5125" x2="501.6" y2="294.6375" stroke="#222" stroke-width="0.9" />
<line x1="500.3" y1="288.5125" x2="502.90000000000003" y2="288.5125" stroke="#222" stroke-width="0.8" />
<line x1="500.3" y1="294.6375" x2="502.90000000000003" y2="294.6375" stroke="#222" stroke-width="0.8" />
<circle cx="501.6" cy="291.57" r="1.6" fill="#111"/>
<polyline points="413.3,364.46 442.8,357.11 472.2,352.82 501.6,350.38" fill="none" stroke="#111" stroke-width="1.1"/>
<circle cx="413.3" cy="364.46" r="1.25" fill="#111"/>
<line x1="442.8" y1="354.66249999999997" x2="442.8" y2="359.5625" stroke="#222" stroke-width="0.9" />
<line x1="441.5" y1="354.66249999999997" x2="444.1" y2="354.66249999999997" stroke="#222" stroke-width="0.8" />
<line x1="441.5" y1="359.5625" x2="444.1" y2="359.5625" stroke="#222" stroke-width="0.8" />
<circle cx="442.8" cy="357.11" r="1.25" fill="#111"/>
<line x1="472.2" y1="348.53749999999997" x2="472.2" y2="357.1125" stroke="#222" stroke-width="0.9" />
<line x1="470.9" y1="348.53749999999997" x2="473.5" y2="348.53749999999997" stroke="#222" stroke-width="0.8" />
<line x1="470.9" y1="357.1125" x2="473.5" y2="357.1125" stroke="#222" stroke-width="0.8" />
<circle cx="472.2" cy="352.82" r="1.25" fill="#111"/>
<line x1="501.6" y1="346.7" x2="501.6" y2="354.05" stroke="#222" stroke-width="0.9" />
<line x1="500.3" y1="346.7" x2="502.90000000000003" y2="346.7" stroke="#222" stroke-width="0.8" />
<line x1="500.3" y1="354.05" x2="502.90000000000003" y2="354.05" stroke="#222" stroke-width="0.8" />
<circle cx="501.6" cy="350.38" r="1.25" fill="#111"/>
<rect x="410.4" y="265.4" width="57.200000000000045" height="30.30000000000001" fill="#fff" stroke="#555" stroke-width="0.9"/>
<line x1="412.4" y1="271.4" x2="419.1" y2="271.4" stroke="#000" stroke-width="0.9" />
<line x1="415.75" y1="270.09999999999997" x2="415.75" y2="272.7" stroke="#000" stroke-width="0.8" />
<text x="420.44" y="273.70" font-size="7.00" font-family='"Liberation Serif", serif' font-weight="normal" fill="#000" stroke="#000" stroke-width="0.3" textLength="26.50" lengthAdjust="spacingAndGlyphs">triptolide</text>
<line x1="412.4" y1="280.9" x2="419.1" y2="280.9" stroke="#000" stroke-width="0.9" />
<circle cx="415.75" cy="280.9" r="1.3" fill="#111"/>
<text x="420.24" y="283.60" font-size="7.00" font-family='"Liberation Serif", serif' font-weight="normal" fill="#000" stroke="#000" stroke-width="0.3" textLength="16.18" lengthAdjust="spacingAndGlyphs">ara C</text>
<line x1="412.4" y1="290.7" x2="419.1" y2="290.7" stroke="#000" stroke-width="0.9" />
<circle cx="415.75" cy="290.7" r="1.3" fill="#fff" stroke="#333" stroke-width="0.6"/>
<text x="420.44" y="293.00" font-size="7.00" font-family='"Liberation Serif", serif' font-weight="normal" fill="#000" stroke="#000" stroke-width="0.3" textLength="46.87" lengthAdjust="spacingAndGlyphs">triptolide+ara C</text>
<text x="409.70" y="387.30" font-size="10.50" font-family='"Liberation Serif", serif' font-weight="bold" fill="#000" stroke="#000" stroke-width="0.2" textLength="5.41" lengthAdjust="spacingAndGlyphs">0</text>
<text x="409.67" y="402.50" font-size="10.60" font-family='"Liberation Serif", serif' font-weight="bold" fill="#000" stroke="#000" stroke-width="0.2" textLength="5.46" lengthAdjust="spacingAndGlyphs">0</text>
<text x="439.62" y="387.30" font-size="10.50" font-family='"Liberation Serif", serif' font-weight="bold" fill="#000" stroke="#000" stroke-width="0.2" textLength="5.41" lengthAdjust="spacingAndGlyphs">5</text>
<text x="436.15" y="402.50" font-size="10.60" font-family='"Liberation Serif", serif' font-weight="bold" fill="#000" stroke="#000" stroke-width="0.2" textLength="13.65" lengthAdjust="spacingAndGlyphs">0.3</text>
<text x="467.07" y="387.30" font-size="10.50" font-family='"Liberation Serif", serif' font-weight="bold" fill="#000" stroke="#000" stroke-width="0.2" textLength="10.81" lengthAdjust="spacingAndGlyphs">10</text>
<text x="464.02" y="402.50" font-size="10.60" font-family='"Liberation Serif", serif' font-weight="bold" fill="#000" stroke="#000" stroke-width="0.2" textLength="13.65" lengthAdjust="spacingAndGlyphs">0.6</text>
<text x="494.85" y="387.30" font-size="10.50" font-family='"Liberation Serif", serif' font-weight="bold" fill="#000" stroke="#000" stroke-width="0.2" textLength="10.82" lengthAdjust="spacingAndGlyphs">15</text>
<text x="493.12" y="402.50" font-size="10.60" font-family='"Liberation Serif", serif' font-weight="bold" fill="#000" stroke="#000" stroke-width="0.2" textLength="13.65" lengthAdjust="spacingAndGlyphs">0.9</text>
<text x="368.01" y="400.90" font-size="10.70" font-family='"Liberation Serif", serif' font-weight="bold" fill="#000" stroke="#000" stroke-width="0.2" textLength="30.53" lengthAdjust="spacingAndGlyphs">Ara-C</text>
<text x="367.97" y="414.20" font-size="10.50" font-family='"Liberation Serif", serif' font-weight="bold" fill="#000" stroke="#000" stroke-width="0.2" textLength="16.03" lengthAdjust="spacingAndGlyphs">μM</text>
<line x1="48.5" y1="464" x2="48.5" y2="564.2" stroke="#444" stroke-width="0.7" />
<line x1="47.6" y1="464" x2="47.6" y2="564.2" stroke="#333" stroke-width="1.0" stroke-dasharray="0.7 1.5"/>
<line x1="48.5" y1="564.2" x2="140.5" y2="564.2" stroke="#333" stroke-width="0.9" />
<line x1="48.5" y1="564.2" x2="48.5" y2="566.2" stroke="#444" stroke-width="0.6" />
<text x="48.5" y="570.4000000000001" font-size="3.4" font-family='"Liberation Serif", serif' font-weight="normal" fill="#333" text-anchor="middle" >0</text>
<line x1="66.7" y1="564.2" x2="66.7" y2="566.2" stroke="#444" stroke-width="0.6" />
<text x="66.7" y="570.4000000000001" font-size="3.4" font-family='"Liberation Serif", serif' font-weight="normal" fill="#333" text-anchor="middle" >50</text>
<line x1="84.9" y1="564.2" x2="84.9" y2="566.2" stroke="#444" stroke-width="0.6" />
<text x="84.9" y="570.4000000000001" font-size="3.4" font-family='"Liberation Serif", serif' font-weight="normal" fill="#333" text-anchor="middle" >100</text>
<line x1="103.1" y1="564.2" x2="103.1" y2="566.2" stroke="#444" stroke-width="0.6" />
<text x="103.1" y="570.4000000000001" font-size="3.4" font-family='"Liberation Serif", serif' font-weight="normal" fill="#333" text-anchor="middle" >150</text>
<line x1="121.3" y1="564.2" x2="121.3" y2="566.2" stroke="#444" stroke-width="0.6" />
<text x="121.3" y="570.4000000000001" font-size="3.4" font-family='"Liberation Serif", serif' font-weight="normal" fill="#333" text-anchor="middle" >200</text>
<line x1="139.5" y1="564.2" x2="139.5" y2="566.2" stroke="#444" stroke-width="0.6" />
<text x="139.5" y="570.4000000000001" font-size="3.4" font-family='"Liberation Serif", serif' font-weight="normal" fill="#333" text-anchor="middle" >250</text>
<line x1="48.5" y1="565.1" x2="140.5" y2="565.1" stroke="#444" stroke-width="0.9" stroke-dasharray="0.6 1.6"/>
<text x="93.5" y="574.5" font-size="4.0" font-family='"Liberation Serif", serif' font-weight="normal" fill="#222" text-anchor="middle" >Channels (FL2-A-FI)</text>
<text x="42.9" y="514.1" font-size="3.6" font-family='"Liberation Serif", serif' font-weight="normal" fill="#444" text-anchor="middle" transform="rotate(-90 42.9 514.1)" >Number</text>
<text x="45.9" y="564.2" font-size="3.2" font-family='"Liberation Serif", serif' font-weight="normal" fill="#444" text-anchor="middle" transform="rotate(-90 45.9 564.2)" >0</text>
<text x="45.9" y="547.2" font-size="3.2" font-family='"Liberation Serif", serif' font-weight="normal" fill="#444" text-anchor="middle" transform="rotate(-90 45.9 547.2)" >100</text>
<text x="45.9" y="530.2" font-size="3.2" font-family='"Liberation Serif", serif' font-weight="normal" fill="#444" text-anchor="middle" transform="rotate(-90 45.9 530.2)" >200</text>
<text x="45.9" y="513.2" font-size="3.2" font-family='"Liberation Serif", serif' font-weight="normal" fill="#444" text-anchor="middle" transform="rotate(-90 45.9 513.2)" >300</text>
<text x="45.9" y="496.20000000000005" font-size="3.2" font-family='"Liberation Serif", serif' font-weight="normal" fill="#444" text-anchor="middle" transform="rotate(-90 45.9 496.20000000000005)" >400</text>
<text x="45.9" y="479.20000000000005" font-size="3.2" font-family='"Liberation Serif", serif' font-weight="normal" fill="#444" text-anchor="middle" transform="rotate(-90 45.9 479.20000000000005)" >500</text>
<clipPath id="hc1"><path d="M73.8,564.2 L74.6,563.6 L75.4,561.5 L76.2,559.1 L77.0,557.2 L77.8,555.6 L78.6,554.3 L79.4,553.6 L80.2,553.2 L81.0,553.2 L81.8,553.2 L82.6,553.2 L83.4,553.2 L84.2,553.2 L85.0,553.2 L85.8,553.2 L86.6,553.2 L87.4,553.2 L88.2,553.2 L89.0,553.2 L89.8,553.2 L90.6,553.2 L91.4,553.2 L92.2,553.2 L93.0,553.2 L93.8,553.2 L94.6,553.2 L95.4,553.4 L96.2,553.8 L97.0,554.4 L97.8,555.8 L98.6,557.4 L99.4,559.1 L100.2,561.0 L101.0,563.0 L101.8,564.1 L102.6,564.2 L102.6,564.2 L101.8,564.2 L101.0,564.2 L100.2,564.2 L99.4,564.2 L98.6,564.2 L97.8,564.2 L97.0,564.2 L96.2,564.2 L95.4,564.2 L94.6,564.2 L93.8,564.2 L93.0,564.2 L92.2,564.2 L91.4,564.2 L90.6,564.2 L89.8,564.2 L89.0,564.2 L88.2,564.2 L87.4,564.2 L86.6,564.2 L85.8,564.2 L85.0,564.2 L84.2,564.2 L83.4,564.2 L82.6,564.2 L81.8,564.2 L81.0,564.2 L80.2,564.2 L79.4,564.2 L78.6,564.2 L77.8,564.2 L77.0,564.2 L76.2,564.2 L75.4,564.2 L74.6,564.2 L73.8,564.2 Z"/></clipPath>
<g clip-path="url(#hc1)"><path d="M73.8,564.2 L74.6,563.6 L75.4,561.5 L76.2,559.1 L77.0,557.2 L77.8,555.6 L78.6,554.3 L79.4,553.6 L80.2,553.2 L81.0,553.2 L81.8,553.2 L82.6,553.2 L83.4,553.2 L84.2,553.2 L85.0,553.2 L85.8,553.2 L86.6,553.2 L87.4,553.2 L88.2,553.2 L89.0,553.2 L89.8,553.2 L90.6,553.2 L91.4,553.2 L92.2,553.2 L93.0,553.2 L93.8,553.2 L94.6,553.2 L95.4,553.4 L96.2,553.8 L97.0,554.4 L97.8,555.8 L98.6,557.4 L99.4,559.1 L100.2,561.0 L101.0,563.0 L101.8,564.1 L102.6,564.2 L102.6,564.2 L101.8,564.2 L101.0,564.2 L100.2,564.2 L99.4,564.2 L98.6,564.2 L97.8,564.2 L97.0,564.2 L96.2,564.2 L95.4,564.2 L94.6,564.2 L93.8,564.2 L93.0,564.2 L92.2,564.2 L91.4,564.2 L90.6,564.2 L89.8,564.2 L89.0,564.2 L88.2,564.2 L87.4,564.2 L86.6,564.2 L85.8,564.2 L85.0,564.2 L84.2,564.2 L83.4,564.2 L82.6,564.2 L81.8,564.2 L81.0,564.2 L80.2,564.2 L79.4,564.2 L78.6,564.2 L77.8,564.2 L77.0,564.2 L76.2,564.2 L75.4,564.2 L74.6,564.2 L73.8,564.2 Z" fill="#e6edf8"/><path d="M60.20,552.20l13.00,13.00M62.90,552.20l13.00,13.00M65.60,552.20l13.00,13.00M68.30,552.20l13.00,13.00M71.00,552.20l13.00,13.00M73.70,552.20l13.00,13.00M76.40,552.20l13.00,13.00M79.10,552.20l13.00,13.00M81.80,552.20l13.00,13.00M84.50,552.20l13.00,13.00M87.20,552.20l13.00,13.00M89.90,552.20l13.00,13.00M92.60,552.20l13.00,13.00M95.30,552.20l13.00,13.00M98.00,552.20l13.00,13.00M100.70,552.20l13.00,13.00M103.40,552.20l13.00,13.00" stroke="#3a5092" stroke-width="0.9" fill="none"/></g>
<path d="M67.4,564.2 L67.8,564.2 L68.2,564.1 L68.6,564.0 L69.0,563.8 L69.4,563.5 L69.8,562.7 L70.2,561.4 L70.6,559.3 L71.0,555.9 L71.4,550.9 L71.8,544.1 L72.2,535.2 L72.6,524.5 L73.0,512.6 L73.4,500.7 L73.8,489.9 L74.2,481.6 L74.6,476.7 L75.0,475.7 L75.4,478.7 L75.8,485.3 L76.2,494.5 L76.6,505.0 L77.0,515.7 L77.4,525.6 L77.8,533.8 L78.2,540.1 L78.6,544.8 L79.0,548.1 L79.4,550.3 L79.8,551.5 L80.2,552.3 L80.6,552.7 L81.0,553.0 L81.4,553.1 L81.8,553.2 L82.2,553.2 L82.2,553.2 L81.8,553.2 L81.4,553.2 L81.0,553.2 L80.6,553.2 L80.2,553.2 L79.8,553.4 L79.4,553.6 L79.0,553.9 L78.6,554.3 L78.2,554.8 L77.8,555.6 L77.4,556.4 L77.0,557.2 L76.6,558.1 L76.2,559.1 L75.8,560.3 L75.4,561.5 L75.0,562.7 L74.6,563.6 L74.2,564.1 L73.8,564.2 L73.4,564.2 L73.0,564.2 L72.6,564.2 L72.2,564.2 L71.8,564.2 L71.4,564.2 L71.0,564.2 L70.6,564.2 L70.2,564.2 L69.8,564.2 L69.4,564.2 L69.0,564.2 L68.6,564.2 L68.2,564.2 L67.8,564.2 L67.4,564.2 Z" fill="#f00000"/>
<polyline points="49.0,557.8 49.8,557.8 50.6,563.6 51.4,563.9 52.2,563.9 53.0,563.9 53.8,563.9 54.6,563.9 55.4,563.9 56.2,563.9 57.0,563.9 57.8,563.9 58.6,563.9 59.4,563.9 60.2,563.9 61.0,563.9 61.8,563.9 62.6,563.9 63.4,563.9 64.2,563.9 65.0,563.9 65.8,563.9 66.6,563.9 67.4,563.9 68.2,563.8 69.0,563.5 69.8,562.4 70.6,559.0 71.4,550.6 72.2,534.9 73.0,512.3 73.8,489.6 74.6,476.4 75.4,478.4 76.2,494.2 77.0,515.4 77.8,533.5 78.6,544.5 79.4,550.0 80.2,551.4 81.0,551.4 81.8,551.3 82.6,551.3 83.4,551.3 84.2,551.3 85.0,551.3 85.8,551.3 86.6,551.3 87.4,551.2 88.2,551.2 89.0,551.2 89.8,551.2 90.6,551.2 91.4,551.2 92.2,551.2 93.0,551.1 93.8,551.1 94.6,551.1 95.4,550.7 96.2,549.8 97.0,549.8 97.8,551.1 98.6,553.1 99.4,555.3 100.2,557.4 101.0,559.2 101.8,561.1 102.6,563.0 103.4,563.9 104.2,563.9 105.0,563.9 105.8,563.9 106.6,563.9 107.4,563.9 108.2,563.9 109.0,563.9 109.8,563.9 110.6,563.9 111.4,563.9 112.2,563.9 113.0,563.9 113.8,563.9 114.6,563.9 115.4,563.9 116.2,563.9 117.0,563.9 117.8,563.9 118.6,563.9 119.4,563.9 120.2,563.9 121.0,563.9 121.8,563.9 122.6,563.9 123.4,563.9 124.2,563.9 125.0,563.9 125.8,563.9 126.6,563.9 127.4,563.9 128.2,563.9 129.0,563.9 129.8,563.9 130.6,563.9 131.4,563.9 132.2,563.9 133.0,563.9 133.8,563.9 134.6,563.9 135.4,563.9 136.2,563.9 137.0,563.9 137.8,563.9 138.6,563.9 139.4,563.9" fill="none" stroke="#111" stroke-width="0.95" stroke-linejoin="miter" stroke-miterlimit="20"/>
<text x="79.92" y="495.60" font-size="10.90" font-family='"Liberation Serif", serif' font-weight="bold" fill="#000" stroke="#000" stroke-width="0.2" textLength="34.17" lengthAdjust="spacingAndGlyphs">control</text>
<line x1="163.8" y1="465" x2="163.8" y2="563.8" stroke="#444" stroke-width="0.7" />
<line x1="162.9" y1="465" x2="162.9" y2="563.8" stroke="#333" stroke-width="1.0" stroke-dasharray="0.7 1.5"/>
<line x1="163.8" y1="563.8" x2="256.3" y2="563.8" stroke="#333" stroke-width="0.9" />
<line x1="163.8" y1="563.8" x2="163.8" y2="565.8" stroke="#444" stroke-width="0.6" />
<text x="163.8" y="570.0" font-size="3.4" font-family='"Liberation Serif", serif' font-weight="normal" fill="#333" text-anchor="middle" >0</text>
<line x1="182.10000000000002" y1="563.8" x2="182.10000000000002" y2="565.8" stroke="#444" stroke-width="0.6" />
<text x="182.10000000000002" y="570.0" font-size="3.4" font-family='"Liberation Serif", serif' font-weight="normal" fill="#333" text-anchor="middle" >50</text>
<line x1="200.4" y1="563.8" x2="200.4" y2="565.8" stroke="#444" stroke-width="0.6" />
<text x="200.4" y="570.0" font-size="3.4" font-family='"Liberation Serif", serif' font-weight="normal" fill="#333" text-anchor="middle" >100</text>
<line x1="218.70000000000002" y1="563.8" x2="218.70000000000002" y2="565.8" stroke="#444" stroke-width="0.6" />
<text x="218.70000000000002" y="570.0" font-size="3.4" font-family='"Liberation Serif", serif' font-weight="normal" fill="#333" text-anchor="middle" >150</text>
<line x1="237.0" y1="563.8" x2="237.0" y2="565.8" stroke="#444" stroke-width="0.6" />
<text x="237.0" y="570.0" font-size="3.4" font-family='"Liberation Serif", serif' font-weight="normal" fill="#333" text-anchor="middle" >200</text>
<line x1="255.3" y1="563.8" x2="255.3" y2="565.8" stroke="#444" stroke-width="0.6" />
<text x="255.3" y="570.0" font-size="3.4" font-family='"Liberation Serif", serif' font-weight="normal" fill="#333" text-anchor="middle" >250</text>
<line x1="163.8" y1="564.6999999999999" x2="256.3" y2="564.6999999999999" stroke="#444" stroke-width="0.9" stroke-dasharray="0.6 1.6"/>
<text x="209.05" y="574.0999999999999" font-size="4.0" font-family='"Liberation Serif", serif' font-weight="normal" fill="#222" text-anchor="middle" >Channels (FL2-A-FI)</text>
<text x="158.20000000000002" y="514.4" font-size="3.6" font-family='"Liberation Serif", serif' font-weight="normal" fill="#444" text-anchor="middle" transform="rotate(-90 158.20000000000002 514.4)" >Number</text>
<text x="161.20000000000002" y="563.8" font-size="3.2" font-family='"Liberation Serif", serif' font-weight="normal" fill="#444" text-anchor="middle" transform="rotate(-90 161.20000000000002 563.8)" >0</text>
<text x="161.20000000000002" y="546.8" font-size="3.2" font-family='"Liberation Serif", serif' font-weight="normal" fill="#444" text-anchor="middle" transform="rotate(-90 161.20000000000002 546.8)" >100</text>
<text x="161.20000000000002" y="529.8" font-size="3.2" font-family='"Liberation Serif", serif' font-weight="normal" fill="#444" text-anchor="middle" transform="rotate(-90 161.20000000000002 529.8)" >200</text>
<text x="161.20000000000002" y="512.8" font-size="3.2" font-family='"Liberation Serif", serif' font-weight="normal" fill="#444" text-anchor="middle" transform="rotate(-90 161.20000000000002 512.8)" >300</text>
<text x="161.20000000000002" y="495.79999999999995" font-size="3.2" font-family='"Liberation Serif", serif' font-weight="normal" fill="#444" text-anchor="middle" transform="rotate(-90 161.20000000000002 495.79999999999995)" >400</text>
<text x="161.20000000000002" y="478.79999999999995" font-size="3.2" font-family='"Liberation Serif", serif' font-weight="normal" fill="#444" text-anchor="middle" transform="rotate(-90 161.20000000000002 478.79999999999995)" >500</text>
<path d="M177.9,563.8 L178.3,563.6 L178.7,563.3 L179.1,563.0 L179.5,562.7 L179.9,562.4 L180.3,562.3 L180.7,562.2 L181.1,562.2 L181.5,562.2 L181.9,562.1 L182.3,562.1 L182.7,562.1 L183.1,562.0 L183.5,562.0 L183.9,562.0 L184.3,561.9 L184.7,561.9 L185.1,561.9 L185.5,561.8 L185.9,561.8 L186.3,562.1 L186.7,562.5 L187.1,562.9 L187.5,563.3 L187.9,563.7 L188.3,563.8 L188.3,563.8 L187.9,563.8 L187.5,563.8 L187.1,563.8 L186.7,563.8 L186.3,563.8 L185.9,563.8 L185.5,563.8 L185.1,563.8 L184.7,563.8 L184.3,563.8 L183.9,563.8 L183.5,563.8 L183.1,563.8 L182.7,563.8 L182.3,563.8 L181.9,563.8 L181.5,563.8 L181.1,563.8 L180.7,563.8 L180.3,563.8 L179.9,563.8 L179.5,563.8 L179.1,563.8 L178.7,563.8 L178.3,563.8 L177.9,563.8 Z" fill="#a9c2ea"/>
<clipPath id="hc2"><path d="M189.1,563.8 L189.9,563.2 L190.7,562.1 L191.5,560.9 L192.3,559.8 L193.1,558.8 L193.9,558.3 L194.7,557.8 L195.5,557.3 L196.3,557.0 L197.1,557.0 L197.9,557.0 L198.7,557.0 L199.5,557.0 L200.3,557.0 L201.1,557.0 L201.9,557.0 L202.7,557.0 L203.5,557.0 L204.3,557.0 L205.1,557.0 L205.9,557.0 L206.7,557.0 L207.5,557.0 L208.3,557.0 L209.1,557.0 L209.9,557.0 L210.7,557.0 L211.5,557.0 L212.3,557.2 L213.1,557.8 L213.9,558.3 L214.7,558.9 L215.5,559.4 L216.3,560.2 L217.1,561.3 L217.9,562.3 L218.7,563.4 L219.5,563.8 L219.5,563.8 L218.7,563.8 L217.9,563.8 L217.1,563.8 L216.3,563.8 L215.5,563.8 L214.7,563.8 L213.9,563.8 L213.1,563.8 L212.3,563.8 L211.5,563.8 L210.7,563.8 L209.9,563.8 L209.1,563.8 L208.3,563.8 L207.5,563.8 L206.7,563.8 L205.9,563.8 L205.1,563.8 L204.3,563.8 L203.5,563.8 L202.7,563.8 L201.9,563.8 L201.1,563.8 L200.3,563.8 L199.5,563.8 L198.7,563.8 L197.9,563.8 L197.1,563.8 L196.3,563.8 L195.5,563.8 L194.7,563.8 L193.9,563.8 L193.1,563.8 L192.3,563.8 L191.5,563.8 L190.7,563.8 L189.9,563.8 L189.1,563.8 Z"/></clipPath>
<g clip-path="url(#hc2)"><path d="M189.1,563.8 L189.9,563.2 L190.7,562.1 L191.5,560.9 L192.3,559.8 L193.1,558.8 L193.9,558.3 L194.7,557.8 L195.5,557.3 L196.3,557.0 L197.1,557.0 L197.9,557.0 L198.7,557.0 L199.5,557.0 L200.3,557.0 L201.1,557.0 L201.9,557.0 L202.7,557.0 L203.5,557.0 L204.3,557.0 L205.1,557.0 L205.9,557.0 L206.7,557.0 L207.5,557.0 L208.3,557.0 L209.1,557.0 L209.9,557.0 L210.7,557.0 L211.5,557.0 L212.3,557.2 L213.1,557.8 L213.9,558.3 L214.7,558.9 L215.5,559.4 L216.3,560.2 L217.1,561.3 L217.9,562.3 L218.7,563.4 L219.5,563.8 L219.5,563.8 L218.7,563.8 L217.9,563.8 L217.1,563.8 L216.3,563.8 L215.5,563.8 L214.7,563.8 L213.9,563.8 L213.1,563.8 L212.3,563.8 L211.5,563.8 L210.7,563.8 L209.9,563.8 L209.1,563.8 L208.3,563.8 L207.5,563.8 L206.7,563.8 L205.9,563.8 L205.1,563.8 L204.3,563.8 L203.5,563.8 L202.7,563.8 L201.9,563.8 L201.1,563.8 L200.3,563.8 L199.5,563.8 L198.7,563.8 L197.9,563.8 L197.1,563.8 L196.3,563.8 L195.5,563.8 L194.7,563.8 L193.9,563.8 L193.1,563.8 L192.3,563.8 L191.5,563.8 L190.7,563.8 L189.9,563.8 L189.1,563.8 Z" fill="#e6edf8"/><path d="M179.70,556.00l8.80,8.80M182.40,556.00l8.80,8.80M185.10,556.00l8.80,8.80M187.80,556.00l8.80,8.80M190.50,556.00l8.80,8.80M193.20,556.00l8.80,8.80M195.90,556.00l8.80,8.80M198.60,556.00l8.80,8.80M201.30,556.00l8.80,8.80M204.00,556.00l8.80,8.80M206.70,556.00l8.80,8.80M209.40,556.00l8.80,8.80M212.10,556.00l8.80,8.80M214.80,556.00l8.80,8.80M217.50,556.00l8.80,8.80M220.20,556.00l8.80,8.80" stroke="#3a5092" stroke-width="0.9" fill="none"/></g>
<path d="M185.5,561.8 L185.9,561.8 L186.3,562.0 L186.7,562.3 L187.1,562.5 L187.5,562.6 L187.9,562.3 L188.3,561.3 L188.7,559.5 L189.1,556.8 L189.5,552.6 L189.9,546.6 L190.3,538.7 L190.7,529.0 L191.1,517.8 L191.5,505.8 L191.9,493.8 L192.3,483.0 L192.7,474.4 L193.1,469.1 L193.5,467.8 L193.9,470.2 L194.3,475.9 L194.7,484.2 L195.1,494.2 L195.5,504.9 L195.9,515.5 L196.3,525.3 L196.7,533.7 L197.1,540.6 L197.5,545.9 L197.9,549.8 L198.3,552.5 L198.7,554.3 L199.1,555.4 L199.5,556.1 L199.9,556.5 L200.3,556.8 L200.7,556.9 L201.1,556.9 L201.5,557.0 L201.9,557.0 L201.9,557.0 L201.5,557.0 L201.1,557.0 L200.7,557.0 L200.3,557.0 L199.9,557.0 L199.5,557.0 L199.1,557.0 L198.7,557.0 L198.3,557.0 L197.9,557.0 L197.5,557.0 L197.1,557.0 L196.7,557.0 L196.3,557.0 L195.9,557.1 L195.5,557.3 L195.1,557.5 L194.7,557.8 L194.3,558.0 L193.9,558.3 L193.5,558.5 L193.1,558.8 L192.7,559.3 L192.3,559.8 L191.9,560.4 L191.5,560.9 L191.1,561.5 L190.7,562.1 L190.3,562.7 L189.9,563.2 L189.5,563.6 L189.1,563.8 L188.7,563.8 L188.3,563.8 L187.9,563.7 L187.5,563.3 L187.1,562.9 L186.7,562.5 L186.3,562.1 L185.9,561.8 L185.5,561.8 Z" fill="#f00000"/>
<path d="M204.7,557.0 L205.1,557.0 L205.5,557.0 L205.9,556.9 L206.3,556.9 L206.7,556.9 L207.1,556.9 L207.5,556.8 L207.9,556.7 L208.3,556.6 L208.7,556.5 L209.1,556.3 L209.5,556.1 L209.9,555.8 L210.3,555.5 L210.7,555.0 L211.1,554.5 L211.5,553.8 L211.9,553.1 L212.3,552.3 L212.7,551.5 L213.1,550.4 L213.5,549.2 L213.9,547.7 L214.3,546.0 L214.7,544.1 L215.1,542.0 L215.5,539.6 L215.9,537.1 L216.3,534.5 L216.7,531.9 L217.1,529.2 L217.5,526.4 L217.9,523.7 L218.3,521.0 L218.7,518.4 L219.1,515.9 L219.5,513.5 L219.9,511.3 L220.3,509.5 L220.7,508.1 L221.1,507.2 L221.5,506.8 L221.9,506.9 L222.3,507.5 L222.7,508.6 L223.1,510.0 L223.5,511.9 L223.9,514.1 L224.3,516.6 L224.7,519.3 L225.1,522.3 L225.5,525.3 L225.9,528.4 L226.3,531.6 L226.7,534.7 L227.1,537.7 L227.5,540.6 L227.9,543.3 L228.3,545.9 L228.7,548.3 L229.1,550.5 L229.5,552.4 L229.9,554.2 L230.3,555.7 L230.7,557.1 L231.1,558.3 L231.5,559.3 L231.9,560.1 L232.3,560.8 L232.7,561.4 L233.1,561.9 L233.5,562.3 L233.9,562.7 L234.3,562.9 L234.7,563.1 L235.1,563.3 L235.5,563.4 L235.9,563.5 L236.3,563.6 L236.7,563.6 L237.1,563.7 L237.5,563.7 L237.9,563.7 L238.3,563.8 L238.7,563.8 L239.1,563.8 L239.5,563.8 L239.5,563.8 L239.1,563.8 L238.7,563.8 L238.3,563.8 L237.9,563.8 L237.5,563.8 L237.1,563.8 L236.7,563.8 L236.3,563.8 L235.9,563.8 L235.5,563.8 L235.1,563.8 L234.7,563.8 L234.3,563.8 L233.9,563.8 L233.5,563.8 L233.1,563.8 L232.7,563.8 L232.3,563.8 L231.9,563.8 L231.5,563.8 L231.1,563.8 L230.7,563.8 L230.3,563.8 L229.9,563.8 L229.5,563.8 L229.1,563.8 L228.7,563.8 L228.3,563.8 L227.9,563.8 L227.5,563.8 L227.1,563.8 L226.7,563.8 L226.3,563.8 L225.9,563.8 L225.5,563.8 L225.1,563.8 L224.7,563.8 L224.3,563.8 L223.9,563.8 L223.5,563.8 L223.1,563.8 L222.7,563.8 L222.3,563.8 L221.9,563.8 L221.5,563.8 L221.1,563.8 L220.7,563.8 L220.3,563.8 L219.9,563.8 L219.5,563.8 L219.1,563.7 L218.7,563.4 L218.3,562.9 L217.9,562.3 L217.5,561.8 L217.1,561.3 L216.7,560.7 L216.3,560.2 L215.9,559.8 L215.5,559.4 L215.1,559.2 L214.7,558.9 L214.3,558.6 L213.9,558.3 L213.5,558.0 L213.1,557.8 L212.7,557.5 L212.3,557.2 L211.9,557.1 L211.5,557.0 L211.1,557.0 L210.7,557.0 L210.3,557.0 L209.9,557.0 L209.5,557.0 L209.1,557.0 L208.7,557.0 L208.3,557.0 L207.9,557.0 L207.5,557.0 L207.1,557.0 L206.7,557.0 L206.3,557.0 L205.9,557.0 L205.5,557.0 L205.1,557.0 L204.7,557.0 Z" fill="#f00000"/>
<polyline points="164.3,556.5 165.1,557.0 165.9,563.2 166.7,563.5 167.5,563.5 168.3,563.5 169.1,563.5 169.9,563.5 170.7,563.5 171.5,563.5 172.3,563.5 173.1,563.5 173.9,563.5 174.7,563.5 175.5,563.5 176.3,563.4 177.1,563.1 177.9,562.8 178.7,562.5 179.5,562.2 180.3,561.5 181.1,560.9 181.9,560.2 182.7,559.5 183.5,558.9 184.3,558.0 185.1,557.2 185.9,557.3 186.7,557.3 187.5,556.8 188.3,556.6 189.1,556.3 189.9,546.4 190.7,528.8 191.5,505.5 192.3,482.6 193.1,468.6 193.9,469.8 194.7,483.8 195.5,504.7 196.3,524.7 197.1,540.1 197.9,549.5 198.7,554.0 199.5,555.7 200.3,555.8 201.1,555.5 201.9,555.6 202.7,555.5 203.5,555.8 204.3,555.5 205.1,555.3 205.9,555.3 206.7,555.3 207.5,555.5 208.3,555.3 209.1,555.3 209.9,555.0 210.7,554.7 211.5,553.3 212.3,551.8 213.1,550.0 213.9,547.3 214.7,544.0 215.5,539.5 216.3,534.0 217.1,529.0 217.9,523.4 218.7,518.4 219.5,513.4 220.3,508.8 221.1,503.4 221.9,495.8 222.7,493.2 223.5,502.7 224.3,513.8 225.1,521.3 225.9,528.4 226.7,534.3 227.5,540.5 228.3,545.9 229.1,550.0 229.9,553.6 230.7,556.6 231.5,559.0 232.3,560.4 233.1,561.9 233.9,562.4 234.7,562.8 235.5,563.1 236.3,563.3 237.1,563.4 237.9,563.4 238.7,563.5 239.5,563.5 240.3,563.5 241.1,563.5 241.9,563.5 242.7,563.5 243.5,563.5 244.3,563.5 245.1,563.5 245.9,563.5 246.7,563.5 247.5,563.5 248.3,563.5 249.1,563.5 249.9,563.5 250.7,563.5 251.5,563.5 252.3,563.5 253.1,563.5 253.9,563.5 254.7,563.5" fill="none" stroke="#111" stroke-width="0.95" stroke-linejoin="miter" stroke-miterlimit="20"/>
<text x="200.92" y="481.70" font-size="11.00" font-family='"Liberation Serif", serif' font-weight="bold" fill="#000" stroke="#000" stroke-width="0.2" textLength="67.43" lengthAdjust="spacingAndGlyphs">Dox 40 ng/mL</text>
<line x1="286.2" y1="465" x2="286.2" y2="564.2" stroke="#444" stroke-width="0.7" />
<line x1="285.3" y1="465" x2="285.3" y2="564.2" stroke="#333" stroke-width="1.0" stroke-dasharray="0.7 1.5"/>
<line x1="286.2" y1="564.2" x2="370" y2="564.2" stroke="#333" stroke-width="0.9" />
<line x1="286.2" y1="564.2" x2="286.2" y2="566.2" stroke="#444" stroke-width="0.6" />
<text x="286.2" y="570.4000000000001" font-size="3.4" font-family='"Liberation Serif", serif' font-weight="normal" fill="#333" text-anchor="middle" >0</text>
<line x1="302.76" y1="564.2" x2="302.76" y2="566.2" stroke="#444" stroke-width="0.6" />
<text x="302.76" y="570.4000000000001" font-size="3.4" font-family='"Liberation Serif", serif' font-weight="normal" fill="#333" text-anchor="middle" >50</text>
<line x1="319.32" y1="564.2" x2="319.32" y2="566.2" stroke="#444" stroke-width="0.6" />
<text x="319.32" y="570.4000000000001" font-size="3.4" font-family='"Liberation Serif", serif' font-weight="normal" fill="#333" text-anchor="middle" >100</text>
<line x1="335.88" y1="564.2" x2="335.88" y2="566.2" stroke="#444" stroke-width="0.6" />
<text x="335.88" y="570.4000000000001" font-size="3.4" font-family='"Liberation Serif", serif' font-weight="normal" fill="#333" text-anchor="middle" >150</text>
<line x1="352.44" y1="564.2" x2="352.44" y2="566.2" stroke="#444" stroke-width="0.6" />
<text x="352.44" y="570.4000000000001" font-size="3.4" font-family='"Liberation Serif", serif' font-weight="normal" fill="#333" text-anchor="middle" >200</text>
<line x1="369.0" y1="564.2" x2="369.0" y2="566.2" stroke="#444" stroke-width="0.6" />
<text x="369.0" y="570.4000000000001" font-size="3.4" font-family='"Liberation Serif", serif' font-weight="normal" fill="#333" text-anchor="middle" >250</text>
<line x1="286.2" y1="565.1" x2="370" y2="565.1" stroke="#444" stroke-width="0.9" stroke-dasharray="0.6 1.6"/>
<text x="327.1" y="574.5" font-size="4.0" font-family='"Liberation Serif", serif' font-weight="normal" fill="#222" text-anchor="middle" >Channels (FL2-A)</text>
<text x="280.59999999999997" y="514.6" font-size="3.6" font-family='"Liberation Serif", serif' font-weight="normal" fill="#444" text-anchor="middle" transform="rotate(-90 280.59999999999997 514.6)" >Number</text>
<text x="283.59999999999997" y="564.2" font-size="3.2" font-family='"Liberation Serif", serif' font-weight="normal" fill="#444" text-anchor="middle" transform="rotate(-90 283.59999999999997 564.2)" >0</text>
<text x="283.59999999999997" y="547.2" font-size="3.2" font-family='"Liberation Serif", serif' font-weight="normal" fill="#444" text-anchor="middle" transform="rotate(-90 283.59999999999997 547.2)" >100</text>
<text x="283.59999999999997" y="530.2" font-size="3.2" font-family='"Liberation Serif", serif' font-weight="normal" fill="#444" text-anchor="middle" transform="rotate(-90 283.59999999999997 530.2)" >200</text>
<text x="283.59999999999997" y="513.2" font-size="3.2" font-family='"Liberation Serif", serif' font-weight="normal" fill="#444" text-anchor="middle" transform="rotate(-90 283.59999999999997 513.2)" >300</text>
<text x="283.59999999999997" y="496.20000000000005" font-size="3.2" font-family='"Liberation Serif", serif' font-weight="normal" fill="#444" text-anchor="middle" transform="rotate(-90 283.59999999999997 496.20000000000005)" >400</text>
<text x="283.59999999999997" y="479.20000000000005" font-size="3.2" font-family='"Liberation Serif", serif' font-weight="normal" fill="#444" text-anchor="middle" transform="rotate(-90 283.59999999999997 479.20000000000005)" >500</text>
<clipPath id="hc3"><path d="M309.9,564.2 L310.7,564.1 L311.5,563.4 L312.3,562.2 L313.1,561.0 L313.9,559.8 L314.7,559.0 L315.5,558.9 L316.3,558.8 L317.1,558.8 L317.9,558.8 L318.7,558.8 L319.5,558.7 L320.3,558.7 L321.1,558.7 L321.9,558.6 L322.7,558.6 L323.5,558.6 L324.3,558.6 L325.1,558.5 L325.9,558.5 L326.7,558.5 L327.5,558.5 L328.3,558.4 L329.1,558.5 L329.9,558.8 L330.7,559.2 L331.5,559.5 L332.3,559.9 L333.1,560.4 L333.9,561.4 L334.7,562.5 L335.5,563.5 L336.3,564.2 L337.1,564.2 L337.1,564.2 L336.3,564.2 L335.5,564.2 L334.7,564.2 L333.9,564.2 L333.1,564.2 L332.3,564.2 L331.5,564.2 L330.7,564.2 L329.9,564.2 L329.1,564.2 L328.3,564.2 L327.5,564.2 L326.7,564.2 L325.9,564.2 L325.1,564.2 L324.3,564.2 L323.5,564.2 L322.7,564.2 L321.9,564.2 L321.1,564.2 L320.3,564.2 L319.5,564.2 L318.7,564.2 L317.9,564.2 L317.1,564.2 L316.3,564.2 L315.5,564.2 L314.7,564.2 L313.9,564.2 L313.1,564.2 L312.3,564.2 L311.5,564.2 L310.7,564.2 L309.9,564.2 Z"/></clipPath>
<g clip-path="url(#hc3)"><path d="M309.9,564.2 L310.7,564.1 L311.5,563.4 L312.3,562.2 L313.1,561.0 L313.9,559.8 L314.7,559.0 L315.5,558.9 L316.3,558.8 L317.1,558.8 L317.9,558.8 L318.7,558.8 L319.5,558.7 L320.3,558.7 L321.1,558.7 L321.9,558.6 L322.7,558.6 L323.5,558.6 L324.3,558.6 L325.1,558.5 L325.9,558.5 L326.7,558.5 L327.5,558.5 L328.3,558.4 L329.1,558.5 L329.9,558.8 L330.7,559.2 L331.5,559.5 L332.3,559.9 L333.1,560.4 L333.9,561.4 L334.7,562.5 L335.5,563.5 L336.3,564.2 L337.1,564.2 L337.1,564.2 L336.3,564.2 L335.5,564.2 L334.7,564.2 L333.9,564.2 L333.1,564.2 L332.3,564.2 L331.5,564.2 L330.7,564.2 L329.9,564.2 L329.1,564.2 L328.3,564.2 L327.5,564.2 L326.7,564.2 L325.9,564.2 L325.1,564.2 L324.3,564.2 L323.5,564.2 L322.7,564.2 L321.9,564.2 L321.1,564.2 L320.3,564.2 L319.5,564.2 L318.7,564.2 L317.9,564.2 L317.1,564.2 L316.3,564.2 L315.5,564.2 L314.7,564.2 L313.9,564.2 L313.1,564.2 L312.3,564.2 L311.5,564.2 L310.7,564.2 L309.9,564.2 Z" fill="#e6edf8"/><path d="M301.92,557.42l7.78,7.78M304.62,557.42l7.78,7.78M307.32,557.42l7.78,7.78M310.02,557.42l7.78,7.78M312.72,557.42l7.78,7.78M315.42,557.42l7.78,7.78M318.12,557.42l7.78,7.78M320.82,557.42l7.78,7.78M323.52,557.42l7.78,7.78M326.22,557.42l7.78,7.78M328.92,557.42l7.78,7.78M331.62,557.42l7.78,7.78M334.32,557.42l7.78,7.78M337.02,557.42l7.78,7.78" stroke="#3a5092" stroke-width="0.9" fill="none"/></g>
<path d="M299.5,564.2 L299.9,564.2 L300.3,564.1 L300.7,564.1 L301.1,564.0 L301.5,563.7 L301.9,563.4 L302.3,562.8 L302.7,561.9 L303.1,560.6 L303.5,558.8 L303.9,556.6 L304.3,554.0 L304.7,551.2 L305.1,548.3 L305.5,545.8 L305.9,543.9 L306.3,542.8 L306.7,542.8 L307.1,543.9 L307.5,545.8 L307.9,548.3 L308.3,551.2 L308.7,554.0 L309.1,556.6 L309.5,558.8 L309.9,560.6 L310.3,561.9 L310.7,562.7 L311.1,563.1 L311.5,563.0 L311.9,562.6 L312.3,562.1 L312.7,561.6 L313.1,561.0 L313.5,560.4 L313.5,560.4 L313.1,561.0 L312.7,561.6 L312.3,562.2 L311.9,562.8 L311.5,563.4 L311.1,563.9 L310.7,564.1 L310.3,564.2 L309.9,564.2 L309.5,564.2 L309.1,564.2 L308.7,564.2 L308.3,564.2 L307.9,564.2 L307.5,564.2 L307.1,564.2 L306.7,564.2 L306.3,564.2 L305.9,564.2 L305.5,564.2 L305.1,564.2 L304.7,564.2 L304.3,564.2 L303.9,564.2 L303.5,564.2 L303.1,564.2 L302.7,564.2 L302.3,564.2 L301.9,564.2 L301.5,564.2 L301.1,564.2 L300.7,564.2 L300.3,564.2 L299.9,564.2 L299.5,564.2 Z" fill="#fff200"/>
<path d="M307.1,543.9 L307.5,545.8 L307.9,548.2 L308.3,551.0 L308.7,553.5 L309.1,555.5 L309.5,556.4 L309.9,555.5 L310.3,552.3 L310.7,546.2 L311.1,536.6 L311.5,523.9 L311.9,509.5 L312.3,495.7 L312.7,484.9 L313.1,479.5 L313.5,480.5 L313.9,487.1 L314.3,498.1 L314.7,511.2 L315.1,524.3 L315.5,535.7 L315.9,544.4 L316.3,550.5 L316.7,554.4 L317.1,556.6 L317.5,557.8 L317.9,558.4 L318.3,558.6 L318.7,558.7 L319.1,558.7 L319.5,558.7 L319.5,558.7 L319.1,558.7 L318.7,558.8 L318.3,558.8 L317.9,558.8 L317.5,558.8 L317.1,558.8 L316.7,558.8 L316.3,558.8 L315.9,558.9 L315.5,558.9 L315.1,558.9 L314.7,559.0 L314.3,559.3 L313.9,559.8 L313.5,560.4 L313.1,561.0 L312.7,561.6 L312.3,562.1 L311.9,562.6 L311.5,563.0 L311.1,563.1 L310.7,562.7 L310.3,561.9 L309.9,560.6 L309.5,558.8 L309.1,556.6 L308.7,554.0 L308.3,551.2 L307.9,548.3 L307.5,545.8 L307.1,543.9 Z" fill="#f00000"/>
<path d="M329.5,558.6 L329.9,558.8 L330.3,558.9 L330.7,559.1 L331.1,559.2 L331.5,559.2 L331.9,559.2 L332.3,559.1 L332.7,558.9 L333.1,558.7 L333.5,558.3 L333.9,557.7 L334.3,556.6 L334.7,555.1 L335.1,553.1 L335.5,550.4 L335.9,547.0 L336.3,542.7 L336.7,537.6 L337.1,532.0 L337.5,526.0 L337.9,519.9 L338.3,513.9 L338.7,508.4 L339.1,503.6 L339.5,499.9 L339.9,497.4 L340.3,496.2 L340.7,496.6 L341.1,498.2 L341.5,500.9 L341.9,504.7 L342.3,509.3 L342.7,514.5 L343.1,520.1 L343.5,525.8 L343.9,531.4 L344.3,536.7 L344.7,541.5 L345.1,545.9 L345.5,549.7 L345.9,552.9 L346.3,555.6 L346.7,557.8 L347.1,559.5 L347.5,560.8 L347.9,561.8 L348.3,562.5 L348.7,563.1 L349.1,563.4 L349.5,563.7 L349.9,563.9 L350.3,564.0 L350.7,564.1 L351.1,564.1 L351.5,564.2 L351.9,564.2 L352.3,564.2 L352.3,564.2 L351.9,564.2 L351.5,564.2 L351.1,564.2 L350.7,564.2 L350.3,564.2 L349.9,564.2 L349.5,564.2 L349.1,564.2 L348.7,564.2 L348.3,564.2 L347.9,564.2 L347.5,564.2 L347.1,564.2 L346.7,564.2 L346.3,564.2 L345.9,564.2 L345.5,564.2 L345.1,564.2 L344.7,564.2 L344.3,564.2 L343.9,564.2 L343.5,564.2 L343.1,564.2 L342.7,564.2 L342.3,564.2 L341.9,564.2 L341.5,564.2 L341.1,564.2 L340.7,564.2 L340.3,564.2 L339.9,564.2 L339.5,564.2 L339.1,564.2 L338.7,564.2 L338.3,564.2 L337.9,564.2 L337.5,564.2 L337.1,564.2 L336.7,564.2 L336.3,564.2 L335.9,563.9 L335.5,563.5 L335.1,563.0 L334.7,562.5 L334.3,561.9 L333.9,561.4 L333.5,560.9 L333.1,560.4 L332.7,560.1 L332.3,559.9 L331.9,559.7 L331.5,559.5 L331.1,559.3 L330.7,559.2 L330.3,559.0 L329.9,558.8 L329.5,558.6 Z" fill="#f00000"/>
<polyline points="286.7,557.3 287.5,557.2 288.3,563.6 289.1,563.9 289.9,563.9 290.7,563.9 291.5,563.9 292.3,563.9 293.1,563.9 293.9,563.9 294.7,563.9 295.5,563.9 296.3,563.9 297.1,563.9 297.9,563.9 298.7,563.9 299.5,563.9 300.3,563.8 301.1,563.7 301.9,563.1 302.7,561.5 303.5,558.8 304.3,553.9 305.1,547.7 305.9,543.4 306.7,542.4 307.5,545.4 308.3,550.7 309.1,555.1 309.9,555.1 310.7,546.0 311.5,523.4 312.3,495.3 313.1,479.1 313.9,486.9 314.7,510.9 315.5,535.1 316.3,550.4 317.1,556.0 317.9,557.1 318.7,557.0 319.5,557.0 320.3,556.8 321.1,556.6 321.9,556.4 322.7,556.4 323.5,556.2 324.3,556.1 325.1,556.1 325.9,555.9 326.7,555.8 327.5,554.9 328.3,554.9 329.1,554.2 329.9,553.7 330.7,552.9 331.5,552.0 332.3,550.6 333.1,549.2 333.9,548.1 334.7,555.0 335.5,550.1 336.3,542.6 337.1,531.6 337.9,519.9 338.7,507.8 339.5,495.9 340.3,485.3 341.1,485.5 341.9,498.2 342.7,512.6 343.5,525.4 344.3,536.5 345.1,545.3 345.9,552.6 346.7,557.5 347.5,560.8 348.3,562.2 349.1,563.1 349.9,563.6 350.7,563.8 351.5,563.9 352.3,563.9 353.1,563.9 353.9,563.9 354.7,563.9 355.5,563.9 356.3,563.9 357.1,563.9 357.9,563.9 358.7,563.9 359.5,563.9 360.3,563.9 361.1,563.9 361.9,563.9 362.7,563.9 363.5,563.9 364.3,563.9 365.1,563.9 365.9,563.9 366.7,563.9 367.5,563.9 368.3,563.9" fill="none" stroke="#111" stroke-width="0.95" stroke-linejoin="miter" stroke-miterlimit="20"/>
<text x="304.43" y="461.60" font-size="10.30" font-family='"Liberation Serif", serif' font-weight="bold" fill="#000" stroke="#000" stroke-width="0.2" textLength="58.38" lengthAdjust="spacingAndGlyphs">gemtuzumab</text>
<text x="304.31" y="472.20" font-size="10.30" font-family='"Liberation Serif", serif' font-weight="bold" fill="#000" stroke="#000" stroke-width="0.2" textLength="49.84" lengthAdjust="spacingAndGlyphs">ozogamicin</text>
<text x="357.81" y="472.20" font-size="10.80" font-family='"Liberation Serif", serif' font-weight="bold" fill="#000" stroke="#000" stroke-width="0.2" textLength="43.71" lengthAdjust="spacingAndGlyphs">30 ng/mL</text>
<line x1="406.8" y1="465.6" x2="406.8" y2="564.2" stroke="#444" stroke-width="0.7" />
<line x1="405.90000000000003" y1="465.6" x2="405.90000000000003" y2="564.2" stroke="#333" stroke-width="1.0" stroke-dasharray="0.7 1.5"/>
<line x1="406.8" y1="564.2" x2="498.4" y2="564.2" stroke="#333" stroke-width="0.9" />
<line x1="406.8" y1="564.2" x2="406.8" y2="566.2" stroke="#444" stroke-width="0.6" />
<text x="406.8" y="570.4000000000001" font-size="3.4" font-family='"Liberation Serif", serif' font-weight="normal" fill="#333" text-anchor="middle" >0</text>
<line x1="424.92" y1="564.2" x2="424.92" y2="566.2" stroke="#444" stroke-width="0.6" />
<text x="424.92" y="570.4000000000001" font-size="3.4" font-family='"Liberation Serif", serif' font-weight="normal" fill="#333" text-anchor="middle" >50</text>
<line x1="443.04" y1="564.2" x2="443.04" y2="566.2" stroke="#444" stroke-width="0.6" />
<text x="443.04" y="570.4000000000001" font-size="3.4" font-family='"Liberation Serif", serif' font-weight="normal" fill="#333" text-anchor="middle" >100</text>
<line x1="461.15999999999997" y1="564.2" x2="461.15999999999997" y2="566.2" stroke="#444" stroke-width="0.6" />
<text x="461.15999999999997" y="570.4000000000001" font-size="3.4" font-family='"Liberation Serif", serif' font-weight="normal" fill="#333" text-anchor="middle" >150</text>
<line x1="479.28" y1="564.2" x2="479.28" y2="566.2" stroke="#444" stroke-width="0.6" />
<text x="479.28" y="570.4000000000001" font-size="3.4" font-family='"Liberation Serif", serif' font-weight="normal" fill="#333" text-anchor="middle" >200</text>
<line x1="497.4" y1="564.2" x2="497.4" y2="566.2" stroke="#444" stroke-width="0.6" />
<text x="497.4" y="570.4000000000001" font-size="3.4" font-family='"Liberation Serif", serif' font-weight="normal" fill="#333" text-anchor="middle" >250</text>
<line x1="406.8" y1="565.1" x2="498.4" y2="565.1" stroke="#444" stroke-width="0.9" stroke-dasharray="0.6 1.6"/>
<text x="451.6" y="574.5" font-size="4.0" font-family='"Liberation Serif", serif' font-weight="normal" fill="#222" text-anchor="middle" >Channels (FL2-A)</text>
<text x="401.2" y="514.9000000000001" font-size="3.6" font-family='"Liberation Serif", serif' font-weight="normal" fill="#444" text-anchor="middle" transform="rotate(-90 401.2 514.9000000000001)" >Number</text>
<text x="404.2" y="564.2" font-size="3.2" font-family='"Liberation Serif", serif' font-weight="normal" fill="#444" text-anchor="middle" transform="rotate(-90 404.2 564.2)" >0</text>
<text x="404.2" y="547.2" font-size="3.2" font-family='"Liberation Serif", serif' font-weight="normal" fill="#444" text-anchor="middle" transform="rotate(-90 404.2 547.2)" >100</text>
<text x="404.2" y="530.2" font-size="3.2" font-family='"Liberation Serif", serif' font-weight="normal" fill="#444" text-anchor="middle" transform="rotate(-90 404.2 530.2)" >200</text>
<text x="404.2" y="513.2" font-size="3.2" font-family='"Liberation Serif", serif' font-weight="normal" fill="#444" text-anchor="middle" transform="rotate(-90 404.2 513.2)" >300</text>
<text x="404.2" y="496.20000000000005" font-size="3.2" font-family='"Liberation Serif", serif' font-weight="normal" fill="#444" text-anchor="middle" transform="rotate(-90 404.2 496.20000000000005)" >400</text>
<text x="404.2" y="479.20000000000005" font-size="3.2" font-family='"Liberation Serif", serif' font-weight="normal" fill="#444" text-anchor="middle" transform="rotate(-90 404.2 479.20000000000005)" >500</text>
<clipPath id="hc4"><path d="M432.1,564.2 L432.9,563.9 L433.7,562.0 L434.5,559.4 L435.3,556.9 L436.1,554.6 L436.9,552.5 L437.7,550.3 L438.5,548.4 L439.3,547.1 L440.1,546.0 L440.9,544.9 L441.7,543.8 L442.5,542.9 L443.3,542.7 L444.1,542.7 L444.9,542.7 L445.7,542.7 L446.5,542.7 L447.3,542.7 L448.1,542.8 L448.9,543.2 L449.7,543.6 L450.5,544.0 L451.3,544.4 L452.1,544.8 L452.9,545.2 L453.7,546.1 L454.5,547.1 L455.3,548.1 L456.1,549.1 L456.9,550.2 L457.7,551.8 L458.5,553.7 L459.3,555.6 L460.1,557.5 L460.9,559.7 L461.7,562.0 L462.5,563.8 L463.3,564.2 L463.3,564.2 L462.5,564.2 L461.7,564.2 L460.9,564.2 L460.1,564.2 L459.3,564.2 L458.5,564.2 L457.7,564.2 L456.9,564.2 L456.1,564.2 L455.3,564.2 L454.5,564.2 L453.7,564.2 L452.9,564.2 L452.1,564.2 L451.3,564.2 L450.5,564.2 L449.7,564.2 L448.9,564.2 L448.1,564.2 L447.3,564.2 L446.5,564.2 L445.7,564.2 L444.9,564.2 L444.1,564.2 L443.3,564.2 L442.5,564.2 L441.7,564.2 L440.9,564.2 L440.1,564.2 L439.3,564.2 L438.5,564.2 L437.7,564.2 L436.9,564.2 L436.1,564.2 L435.3,564.2 L434.5,564.2 L433.7,564.2 L432.9,564.2 L432.1,564.2 Z"/></clipPath>
<g clip-path="url(#hc4)"><path d="M432.1,564.2 L432.9,563.9 L433.7,562.0 L434.5,559.4 L435.3,556.9 L436.1,554.6 L436.9,552.5 L437.7,550.3 L438.5,548.4 L439.3,547.1 L440.1,546.0 L440.9,544.9 L441.7,543.8 L442.5,542.9 L443.3,542.7 L444.1,542.7 L444.9,542.7 L445.7,542.7 L446.5,542.7 L447.3,542.7 L448.1,542.8 L448.9,543.2 L449.7,543.6 L450.5,544.0 L451.3,544.4 L452.1,544.8 L452.9,545.2 L453.7,546.1 L454.5,547.1 L455.3,548.1 L456.1,549.1 L456.9,550.2 L457.7,551.8 L458.5,553.7 L459.3,555.6 L460.1,557.5 L460.9,559.7 L461.7,562.0 L462.5,563.8 L463.3,564.2 L463.3,564.2 L462.5,564.2 L461.7,564.2 L460.9,564.2 L460.1,564.2 L459.3,564.2 L458.5,564.2 L457.7,564.2 L456.9,564.2 L456.1,564.2 L455.3,564.2 L454.5,564.2 L453.7,564.2 L452.9,564.2 L452.1,564.2 L451.3,564.2 L450.5,564.2 L449.7,564.2 L448.9,564.2 L448.1,564.2 L447.3,564.2 L446.5,564.2 L445.7,564.2 L444.9,564.2 L444.1,564.2 L443.3,564.2 L442.5,564.2 L441.7,564.2 L440.9,564.2 L440.1,564.2 L439.3,564.2 L438.5,564.2 L437.7,564.2 L436.9,564.2 L436.1,564.2 L435.3,564.2 L434.5,564.2 L433.7,564.2 L432.9,564.2 L432.1,564.2 Z" fill="#e6edf8"/><path d="M408.40,541.70l23.50,23.50M411.10,541.70l23.50,23.50M413.80,541.70l23.50,23.50M416.50,541.70l23.50,23.50M419.20,541.70l23.50,23.50M421.90,541.70l23.50,23.50M424.60,541.70l23.50,23.50M427.30,541.70l23.50,23.50M430.00,541.70l23.50,23.50M432.70,541.70l23.50,23.50M435.40,541.70l23.50,23.50M438.10,541.70l23.50,23.50M440.80,541.70l23.50,23.50M443.50,541.70l23.50,23.50M446.20,541.70l23.50,23.50M448.90,541.70l23.50,23.50M451.60,541.70l23.50,23.50M454.30,541.70l23.50,23.50M457.00,541.70l23.50,23.50M459.70,541.70l23.50,23.50M462.40,541.70l23.50,23.50M465.10,541.70l23.50,23.50" stroke="#3a5092" stroke-width="0.9" fill="none"/></g>
<path d="M427.7,564.2 L428.1,564.2 L428.5,564.1 L428.9,564.0 L429.3,563.8 L429.7,563.5 L430.1,562.9 L430.5,562.0 L430.9,560.5 L431.3,558.2 L431.7,555.1 L432.1,551.0 L432.5,545.8 L432.9,539.3 L433.3,531.7 L433.7,523.6 L434.1,515.9 L434.5,509.4 L434.9,504.7 L435.3,502.2 L435.7,502.4 L436.1,505.1 L436.5,509.8 L436.9,515.7 L437.3,521.9 L437.7,527.9 L438.1,533.0 L438.5,537.1 L438.9,540.3 L439.3,542.5 L439.7,543.8 L440.1,544.4 L440.5,544.6 L440.9,544.5 L441.3,544.1 L441.7,543.7 L442.1,543.2 L442.5,542.9 L442.5,542.9 L442.1,543.2 L441.7,543.8 L441.3,544.4 L440.9,544.9 L440.5,545.5 L440.1,546.0 L439.7,546.6 L439.3,547.1 L438.9,547.6 L438.5,548.4 L438.1,549.3 L437.7,550.3 L437.3,551.4 L436.9,552.5 L436.5,553.5 L436.1,554.6 L435.7,555.7 L435.3,556.9 L434.9,558.1 L434.5,559.4 L434.1,560.7 L433.7,562.0 L433.3,563.1 L432.9,563.9 L432.5,564.2 L432.1,564.2 L431.7,564.2 L431.3,564.2 L430.9,564.2 L430.5,564.2 L430.1,564.2 L429.7,564.2 L429.3,564.2 L428.9,564.2 L428.5,564.2 L428.1,564.2 L427.7,564.2 Z" fill="#f00000"/>
<path d="M452.5,544.9 L452.9,545.2 L453.3,545.5 L453.7,546.0 L454.1,546.4 L454.5,546.7 L454.9,547.0 L455.3,547.2 L455.7,547.3 L456.1,547.2 L456.5,547.0 L456.9,546.7 L457.3,546.5 L457.7,546.4 L458.1,546.3 L458.5,546.3 L458.9,546.6 L459.3,547.1 L459.7,548.0 L460.1,549.3 L460.5,550.9 L460.9,552.9 L461.3,555.1 L461.7,557.3 L462.1,559.5 L462.5,561.2 L462.9,562.3 L463.3,562.9 L463.7,563.4 L464.1,563.7 L464.5,563.9 L464.9,564.0 L465.3,564.1 L465.7,564.2 L466.1,564.2 L466.5,564.2 L466.5,564.2 L466.1,564.2 L465.7,564.2 L465.3,564.2 L464.9,564.2 L464.5,564.2 L464.1,564.2 L463.7,564.2 L463.3,564.2 L462.9,564.2 L462.5,563.8 L462.1,563.1 L461.7,562.0 L461.3,560.8 L460.9,559.7 L460.5,558.6 L460.1,557.5 L459.7,556.5 L459.3,555.6 L458.9,554.6 L458.5,553.7 L458.1,552.8 L457.7,551.8 L457.3,550.9 L456.9,550.2 L456.5,549.6 L456.1,549.1 L455.7,548.6 L455.3,548.1 L454.9,547.6 L454.5,547.1 L454.1,546.6 L453.7,546.1 L453.3,545.6 L452.9,545.2 L452.5,545.0 Z" fill="#f00000"/>
<polyline points="407.3,558.2 408.1,558.0 408.9,563.6 409.7,563.9 410.5,563.9 411.3,563.9 412.1,563.9 412.9,563.9 413.7,563.9 414.5,563.9 415.3,563.9 416.1,563.9 416.9,563.9 417.7,563.9 418.5,563.9 419.3,563.9 420.1,563.9 420.9,563.9 421.7,563.9 422.5,563.9 423.3,563.6 424.1,562.8 424.9,562.5 425.7,560.7 426.5,560.5 427.3,560.5 428.1,560.9 428.9,561.4 429.7,561.3 430.5,561.3 431.3,558.2 432.1,550.4 432.9,538.5 433.7,521.4 434.5,496.6 435.3,478.0 436.1,491.8 436.9,513.5 437.7,527.0 438.5,536.4 439.3,541.4 440.1,540.8 440.9,540.9 441.7,539.9 442.5,540.8 443.3,540.4 444.1,540.0 444.9,539.3 445.7,539.8 446.5,539.2 447.3,539.3 448.1,539.0 448.9,537.7 449.7,538.2 450.5,536.5 451.3,536.1 452.1,535.2 452.9,534.5 453.7,532.7 454.5,533.3 455.3,535.2 456.1,532.3 456.9,530.3 457.7,526.6 458.5,536.3 459.3,540.8 460.1,544.8 460.9,548.6 461.7,552.6 462.5,555.3 463.3,558.9 464.1,560.0 464.9,562.5 465.7,563.9 466.5,563.9 467.3,563.9 468.1,563.9 468.9,563.9 469.7,563.9 470.5,563.9 471.3,563.9 472.1,563.9 472.9,563.9 473.7,563.9 474.5,563.9 475.3,563.9 476.1,563.9 476.9,563.9 477.7,563.9 478.5,563.9 479.3,563.9 480.1,563.9 480.9,563.9 481.7,563.9 482.5,563.9 483.3,563.9 484.1,563.9 484.9,563.9 485.7,563.9 486.5,563.9 487.3,563.9 488.1,563.9 488.9,563.9 489.7,563.9 490.5,563.9 491.3,563.9 492.1,563.9 492.9,563.9 493.7,563.9 494.5,563.9 495.3,563.9 496.1,563.9 496.9,563.9" fill="none" stroke="#111" stroke-width="0.95" stroke-linejoin="miter" stroke-miterlimit="20"/>
<text x="445.71" y="496.40" font-size="11.20" font-family='"Liberation Serif", serif' font-weight="bold" fill="#000" stroke="#000" stroke-width="0.2" textLength="65.59" lengthAdjust="spacingAndGlyphs">Ara-C 0.6 μM</text>
<line x1="47.3" y1="578.7" x2="47.3" y2="680.8" stroke="#444" stroke-width="0.7" />
<line x1="46.4" y1="578.7" x2="46.4" y2="680.8" stroke="#333" stroke-width="1.0" stroke-dasharray="0.7 1.5"/>
<line x1="47.3" y1="680.8" x2="135.6" y2="680.8" stroke="#333" stroke-width="0.9" />
<line x1="47.3" y1="680.8" x2="47.3" y2="682.8" stroke="#444" stroke-width="0.6" />
<text x="47.3" y="687.0" font-size="3.4" font-family='"Liberation Serif", serif' font-weight="normal" fill="#333" text-anchor="middle" >0</text>
<line x1="64.75999999999999" y1="680.8" x2="64.75999999999999" y2="682.8" stroke="#444" stroke-width="0.6" />
<text x="64.75999999999999" y="687.0" font-size="3.4" font-family='"Liberation Serif", serif' font-weight="normal" fill="#333" text-anchor="middle" >50</text>
<line x1="82.22" y1="680.8" x2="82.22" y2="682.8" stroke="#444" stroke-width="0.6" />
<text x="82.22" y="687.0" font-size="3.4" font-family='"Liberation Serif", serif' font-weight="normal" fill="#333" text-anchor="middle" >100</text>
<line x1="99.67999999999999" y1="680.8" x2="99.67999999999999" y2="682.8" stroke="#444" stroke-width="0.6" />
<text x="99.67999999999999" y="687.0" font-size="3.4" font-family='"Liberation Serif", serif' font-weight="normal" fill="#333" text-anchor="middle" >150</text>
<line x1="117.14" y1="680.8" x2="117.14" y2="682.8" stroke="#444" stroke-width="0.6" />
<text x="117.14" y="687.0" font-size="3.4" font-family='"Liberation Serif", serif' font-weight="normal" fill="#333" text-anchor="middle" >200</text>
<line x1="134.6" y1="680.8" x2="134.6" y2="682.8" stroke="#444" stroke-width="0.6" />
<text x="134.6" y="687.0" font-size="3.4" font-family='"Liberation Serif", serif' font-weight="normal" fill="#333" text-anchor="middle" >250</text>
<line x1="47.3" y1="681.6999999999999" x2="135.6" y2="681.6999999999999" stroke="#444" stroke-width="0.9" stroke-dasharray="0.6 1.6"/>
<text x="90.44999999999999" y="691.0999999999999" font-size="4.0" font-family='"Liberation Serif", serif' font-weight="normal" fill="#222" text-anchor="middle" >Channels (FL2-A-FI)</text>
<text x="41.699999999999996" y="629.75" font-size="3.6" font-family='"Liberation Serif", serif' font-weight="normal" fill="#444" text-anchor="middle" transform="rotate(-90 41.699999999999996 629.75)" >Number</text>
<text x="44.699999999999996" y="680.8" font-size="3.2" font-family='"Liberation Serif", serif' font-weight="normal" fill="#444" text-anchor="middle" transform="rotate(-90 44.699999999999996 680.8)" >0</text>
<text x="44.699999999999996" y="663.8" font-size="3.2" font-family='"Liberation Serif", serif' font-weight="normal" fill="#444" text-anchor="middle" transform="rotate(-90 44.699999999999996 663.8)" >100</text>
<text x="44.699999999999996" y="646.8" font-size="3.2" font-family='"Liberation Serif", serif' font-weight="normal" fill="#444" text-anchor="middle" transform="rotate(-90 44.699999999999996 646.8)" >200</text>
<text x="44.699999999999996" y="629.8" font-size="3.2" font-family='"Liberation Serif", serif' font-weight="normal" fill="#444" text-anchor="middle" transform="rotate(-90 44.699999999999996 629.8)" >300</text>
<text x="44.699999999999996" y="612.8" font-size="3.2" font-family='"Liberation Serif", serif' font-weight="normal" fill="#444" text-anchor="middle" transform="rotate(-90 44.699999999999996 612.8)" >400</text>
<text x="44.699999999999996" y="595.8" font-size="3.2" font-family='"Liberation Serif", serif' font-weight="normal" fill="#444" text-anchor="middle" transform="rotate(-90 44.699999999999996 595.8)" >500</text>
<clipPath id="hc5"><path d="M69.4,680.8 L70.2,680.7 L71.0,680.0 L71.8,678.6 L72.6,677.3 L73.4,676.0 L74.2,675.1 L75.0,674.3 L75.8,673.5 L76.6,672.7 L77.4,672.3 L78.2,672.2 L79.0,672.2 L79.8,672.1 L80.6,672.1 L81.4,672.0 L82.2,672.0 L83.0,671.9 L83.8,671.9 L84.6,671.8 L85.4,671.8 L86.2,671.7 L87.0,671.6 L87.8,671.5 L88.6,671.4 L89.4,671.4 L90.2,671.5 L91.0,672.0 L91.8,672.6 L92.6,673.1 L93.4,673.7 L94.2,674.2 L95.0,674.9 L95.8,676.2 L96.6,677.5 L97.4,678.9 L98.2,680.2 L99.0,680.8 L99.0,680.8 L98.2,680.8 L97.4,680.8 L96.6,680.8 L95.8,680.8 L95.0,680.8 L94.2,680.8 L93.4,680.8 L92.6,680.8 L91.8,680.8 L91.0,680.8 L90.2,680.8 L89.4,680.8 L88.6,680.8 L87.8,680.8 L87.0,680.8 L86.2,680.8 L85.4,680.8 L84.6,680.8 L83.8,680.8 L83.0,680.8 L82.2,680.8 L81.4,680.8 L80.6,680.8 L79.8,680.8 L79.0,680.8 L78.2,680.8 L77.4,680.8 L76.6,680.8 L75.8,680.8 L75.0,680.8 L74.2,680.8 L73.4,680.8 L72.6,680.8 L71.8,680.8 L71.0,680.8 L70.2,680.8 L69.4,680.8 Z"/></clipPath>
<g clip-path="url(#hc5)"><path d="M69.4,680.8 L70.2,680.7 L71.0,680.0 L71.8,678.6 L72.6,677.3 L73.4,676.0 L74.2,675.1 L75.0,674.3 L75.8,673.5 L76.6,672.7 L77.4,672.3 L78.2,672.2 L79.0,672.2 L79.8,672.1 L80.6,672.1 L81.4,672.0 L82.2,672.0 L83.0,671.9 L83.8,671.9 L84.6,671.8 L85.4,671.8 L86.2,671.7 L87.0,671.6 L87.8,671.5 L88.6,671.4 L89.4,671.4 L90.2,671.5 L91.0,672.0 L91.8,672.6 L92.6,673.1 L93.4,673.7 L94.2,674.2 L95.0,674.9 L95.8,676.2 L96.6,677.5 L97.4,678.9 L98.2,680.2 L99.0,680.8 L99.0,680.8 L98.2,680.8 L97.4,680.8 L96.6,680.8 L95.8,680.8 L95.0,680.8 L94.2,680.8 L93.4,680.8 L92.6,680.8 L91.8,680.8 L91.0,680.8 L90.2,680.8 L89.4,680.8 L88.6,680.8 L87.8,680.8 L87.0,680.8 L86.2,680.8 L85.4,680.8 L84.6,680.8 L83.8,680.8 L83.0,680.8 L82.2,680.8 L81.4,680.8 L80.6,680.8 L79.8,680.8 L79.0,680.8 L78.2,680.8 L77.4,680.8 L76.6,680.8 L75.8,680.8 L75.0,680.8 L74.2,680.8 L73.4,680.8 L72.6,680.8 L71.8,680.8 L71.0,680.8 L70.2,680.8 L69.4,680.8 Z" fill="#e6edf8"/><path d="M57.76,670.36l11.44,11.44M60.46,670.36l11.44,11.44M63.16,670.36l11.44,11.44M65.86,670.36l11.44,11.44M68.56,670.36l11.44,11.44M71.26,670.36l11.44,11.44M73.96,670.36l11.44,11.44M76.66,670.36l11.44,11.44M79.36,670.36l11.44,11.44M82.06,670.36l11.44,11.44M84.76,670.36l11.44,11.44M87.46,670.36l11.44,11.44M90.16,670.36l11.44,11.44M92.86,670.36l11.44,11.44M95.56,670.36l11.44,11.44M98.26,670.36l11.44,11.44M100.96,670.36l11.44,11.44" stroke="#3a5092" stroke-width="0.9" fill="none"/></g>
<path d="M65.0,680.8 L65.4,680.8 L65.8,680.7 L66.2,680.6 L66.6,680.4 L67.0,680.0 L67.4,679.2 L67.8,677.9 L68.2,675.9 L68.6,672.7 L69.0,668.2 L69.4,662.1 L69.8,654.4 L70.2,645.3 L70.6,635.1 L71.0,624.7 L71.4,615.2 L71.8,607.8 L72.2,603.6 L72.6,602.9 L73.0,605.4 L73.4,610.9 L73.8,618.5 L74.2,627.3 L74.6,636.4 L75.0,645.0 L75.4,652.4 L75.8,658.4 L76.2,663.0 L76.6,666.2 L77.0,668.4 L77.4,669.9 L77.8,670.9 L78.2,671.5 L78.6,671.8 L79.0,672.0 L79.4,672.1 L79.8,672.1 L80.2,672.1 L80.2,672.1 L79.8,672.1 L79.4,672.1 L79.0,672.2 L78.6,672.2 L78.2,672.2 L77.8,672.2 L77.4,672.3 L77.0,672.4 L76.6,672.7 L76.2,673.1 L75.8,673.5 L75.4,673.9 L75.0,674.3 L74.6,674.7 L74.2,675.1 L73.8,675.5 L73.4,676.0 L73.0,676.6 L72.6,677.3 L72.2,678.0 L71.8,678.6 L71.4,679.3 L71.0,680.0 L70.6,680.5 L70.2,680.7 L69.8,680.8 L69.4,680.8 L69.0,680.8 L68.6,680.8 L68.2,680.8 L67.8,680.8 L67.4,680.8 L67.0,680.8 L66.6,680.8 L66.2,680.8 L65.8,680.8 L65.4,680.8 L65.0,680.8 Z" fill="#f00000"/>
<polyline points="47.8,673.7 48.6,673.6 49.4,680.2 50.2,680.5 51.0,680.5 51.8,680.5 52.6,680.5 53.4,680.5 54.2,680.5 55.0,680.5 55.8,680.5 56.6,680.5 57.4,680.5 58.2,680.5 59.0,680.5 59.8,680.5 60.6,680.5 61.4,680.5 62.2,680.5 63.0,680.5 63.8,680.5 64.6,680.5 65.4,680.5 66.2,680.3 67.0,679.7 67.8,677.4 68.6,672.5 69.4,661.8 70.2,645.2 71.0,624.4 71.8,603.0 72.6,592.8 73.4,609.4 74.2,627.2 75.0,644.8 75.8,658.3 76.6,665.7 77.4,669.8 78.2,670.7 79.0,670.4 79.8,670.3 80.6,669.9 81.4,669.6 82.2,669.8 83.0,669.7 83.8,669.6 84.6,669.2 85.4,669.1 86.2,669.2 87.0,669.0 87.8,669.0 88.6,669.3 89.4,669.4 90.2,669.0 91.0,669.2 91.8,669.7 92.6,670.5 93.4,670.5 94.2,671.1 95.0,672.5 95.8,674.3 96.6,675.6 97.4,677.0 98.2,678.2 99.0,679.6 99.8,680.5 100.6,680.5 101.4,680.5 102.2,680.5 103.0,680.5 103.8,680.5 104.6,680.5 105.4,680.5 106.2,680.5 107.0,680.5 107.8,680.5 108.6,680.5 109.4,680.5 110.2,680.5 111.0,680.5 111.8,680.5 112.6,680.5 113.4,680.5 114.2,680.5 115.0,680.5 115.8,680.5 116.6,680.5 117.4,680.5 118.2,680.5 119.0,680.5 119.8,680.5 120.6,680.5 121.4,680.5 122.2,680.5 123.0,680.5 123.8,680.5 124.6,680.5 125.4,680.5 126.2,680.5 127.0,680.5 127.8,680.5 128.6,680.5 129.4,680.5 130.2,680.5 131.0,680.5 131.8,680.5 132.6,680.5 133.4,680.5 134.2,680.5" fill="none" stroke="#111" stroke-width="0.95" stroke-linejoin="miter" stroke-miterlimit="20"/>
<text x="76.42" y="601.80" font-size="10.60" font-family='"Liberation Serif", serif' font-weight="bold" fill="#000" stroke="#000" stroke-width="0.2" textLength="76.88" lengthAdjust="spacingAndGlyphs">triptolide 10 nM</text>
<text x="79.52" y="632.10" font-size="13.00" font-family='"Liberation Serif", serif' font-weight="bold" fill="#000" stroke="#000" stroke-width="0.2" textLength="17.15" lengthAdjust="spacingAndGlyphs">6D</text>
<line x1="163.8" y1="581.3" x2="163.8" y2="679.7" stroke="#444" stroke-width="0.7" />
<line x1="162.9" y1="581.3" x2="162.9" y2="679.7" stroke="#333" stroke-width="1.0" stroke-dasharray="0.7 1.5"/>
<line x1="163.8" y1="679.7" x2="253.8" y2="679.7" stroke="#333" stroke-width="0.9" />
<line x1="163.8" y1="679.7" x2="163.8" y2="681.7" stroke="#444" stroke-width="0.6" />
<text x="163.8" y="685.9000000000001" font-size="3.4" font-family='"Liberation Serif", serif' font-weight="normal" fill="#333" text-anchor="middle" >0</text>
<line x1="181.60000000000002" y1="679.7" x2="181.60000000000002" y2="681.7" stroke="#444" stroke-width="0.6" />
<text x="181.60000000000002" y="685.9000000000001" font-size="3.4" font-family='"Liberation Serif", serif' font-weight="normal" fill="#333" text-anchor="middle" >50</text>
<line x1="199.4" y1="679.7" x2="199.4" y2="681.7" stroke="#444" stroke-width="0.6" />
<text x="199.4" y="685.9000000000001" font-size="3.4" font-family='"Liberation Serif", serif' font-weight="normal" fill="#333" text-anchor="middle" >100</text>
<line x1="217.20000000000002" y1="679.7" x2="217.20000000000002" y2="681.7" stroke="#444" stroke-width="0.6" />
<text x="217.20000000000002" y="685.9000000000001" font-size="3.4" font-family='"Liberation Serif", serif' font-weight="normal" fill="#333" text-anchor="middle" >150</text>
<line x1="235.0" y1="679.7" x2="235.0" y2="681.7" stroke="#444" stroke-width="0.6" />
<text x="235.0" y="685.9000000000001" font-size="3.4" font-family='"Liberation Serif", serif' font-weight="normal" fill="#333" text-anchor="middle" >200</text>
<line x1="252.8" y1="679.7" x2="252.8" y2="681.7" stroke="#444" stroke-width="0.6" />
<text x="252.8" y="685.9000000000001" font-size="3.4" font-family='"Liberation Serif", serif' font-weight="normal" fill="#333" text-anchor="middle" >250</text>
<line x1="163.8" y1="680.6" x2="253.8" y2="680.6" stroke="#444" stroke-width="0.9" stroke-dasharray="0.6 1.6"/>
<text x="207.8" y="690.0" font-size="4.0" font-family='"Liberation Serif", serif' font-weight="normal" fill="#222" text-anchor="middle" >Channels (FL2-A-FI)</text>
<text x="158.20000000000002" y="630.5" font-size="3.6" font-family='"Liberation Serif", serif' font-weight="normal" fill="#444" text-anchor="middle" transform="rotate(-90 158.20000000000002 630.5)" >Number</text>
<text x="161.20000000000002" y="679.7" font-size="3.2" font-family='"Liberation Serif", serif' font-weight="normal" fill="#444" text-anchor="middle" transform="rotate(-90 161.20000000000002 679.7)" >0</text>
<text x="161.20000000000002" y="662.7" font-size="3.2" font-family='"Liberation Serif", serif' font-weight="normal" fill="#444" text-anchor="middle" transform="rotate(-90 161.20000000000002 662.7)" >100</text>
<text x="161.20000000000002" y="645.7" font-size="3.2" font-family='"Liberation Serif", serif' font-weight="normal" fill="#444" text-anchor="middle" transform="rotate(-90 161.20000000000002 645.7)" >200</text>
<text x="161.20000000000002" y="628.7" font-size="3.2" font-family='"Liberation Serif", serif' font-weight="normal" fill="#444" text-anchor="middle" transform="rotate(-90 161.20000000000002 628.7)" >300</text>
<text x="161.20000000000002" y="611.7" font-size="3.2" font-family='"Liberation Serif", serif' font-weight="normal" fill="#444" text-anchor="middle" transform="rotate(-90 161.20000000000002 611.7)" >400</text>
<text x="161.20000000000002" y="594.7" font-size="3.2" font-family='"Liberation Serif", serif' font-weight="normal" fill="#444" text-anchor="middle" transform="rotate(-90 161.20000000000002 594.7)" >500</text>
<path d="M164.3,668.3 L164.7,669.1 L165.1,669.9 L165.5,670.5 L165.9,671.1 L166.3,671.7 L166.7,672.3 L167.1,672.8 L167.5,673.2 L167.9,673.5 L168.3,673.9 L168.7,674.2 L169.1,674.5 L169.5,674.6 L169.9,674.6 L170.3,674.6 L170.7,674.7 L171.1,674.7 L171.5,674.8 L171.9,674.8 L172.3,674.8 L172.7,674.9 L173.1,674.9 L173.5,675.0 L173.9,675.0 L174.3,675.0 L174.7,675.1 L175.1,675.1 L175.5,675.2 L175.9,675.2 L176.3,675.3 L176.7,675.5 L177.1,675.6 L177.5,675.8 L177.9,676.0 L178.3,676.1 L178.7,676.5 L179.1,677.0 L179.5,677.6 L179.9,678.2 L180.3,678.7 L180.7,679.3 L181.1,679.7 L181.1,679.7 L180.7,679.7 L180.3,679.7 L179.9,679.7 L179.5,679.7 L179.1,679.7 L178.7,679.7 L178.3,679.7 L177.9,679.7 L177.5,679.7 L177.1,679.7 L176.7,679.7 L176.3,679.7 L175.9,679.7 L175.5,679.7 L175.1,679.7 L174.7,679.7 L174.3,679.7 L173.9,679.7 L173.5,679.7 L173.1,679.7 L172.7,679.7 L172.3,679.7 L171.9,679.7 L171.5,679.7 L171.1,679.7 L170.7,679.7 L170.3,679.7 L169.9,679.7 L169.5,679.7 L169.1,679.7 L168.7,679.7 L168.3,679.7 L167.9,679.7 L167.5,679.7 L167.1,679.7 L166.7,679.7 L166.3,679.7 L165.9,679.7 L165.5,679.7 L165.1,679.7 L164.7,679.7 L164.3,679.7 Z" fill="#a9c2ea"/>
<clipPath id="hc6"><path d="M181.1,679.7 L181.9,679.1 L182.7,678.0 L183.5,676.8 L184.3,675.7 L185.1,674.4 L185.9,672.6 L186.7,670.7 L187.5,668.9 L188.3,666.7 L189.1,664.2 L189.9,661.6 L190.7,659.7 L191.5,658.8 L192.3,658.1 L193.1,657.6 L193.9,657.5 L194.7,657.5 L195.5,657.5 L196.3,657.5 L197.1,657.6 L197.9,658.2 L198.7,658.8 L199.5,659.4 L200.3,659.9 L201.1,660.5 L201.9,661.2 L202.7,662.1 L203.5,663.1 L204.3,664.1 L205.1,665.1 L205.9,666.1 L206.7,667.4 L207.5,668.8 L208.3,670.2 L209.1,671.6 L209.9,673.0 L210.7,674.3 L211.5,675.6 L212.3,676.9 L213.1,678.2 L213.9,679.4 L214.7,679.7 L214.7,679.7 L213.9,679.7 L213.1,679.7 L212.3,679.7 L211.5,679.7 L210.7,679.7 L209.9,679.7 L209.1,679.7 L208.3,679.7 L207.5,679.7 L206.7,679.7 L205.9,679.7 L205.1,679.7 L204.3,679.7 L203.5,679.7 L202.7,679.7 L201.9,679.7 L201.1,679.7 L200.3,679.7 L199.5,679.7 L198.7,679.7 L197.9,679.7 L197.1,679.7 L196.3,679.7 L195.5,679.7 L194.7,679.7 L193.9,679.7 L193.1,679.7 L192.3,679.7 L191.5,679.7 L190.7,679.7 L189.9,679.7 L189.1,679.7 L188.3,679.7 L187.5,679.7 L186.7,679.7 L185.9,679.7 L185.1,679.7 L184.3,679.7 L183.5,679.7 L182.7,679.7 L181.9,679.7 L181.1,679.7 Z"/></clipPath>
<g clip-path="url(#hc6)"><path d="M181.1,679.7 L181.9,679.1 L182.7,678.0 L183.5,676.8 L184.3,675.7 L185.1,674.4 L185.9,672.6 L186.7,670.7 L187.5,668.9 L188.3,666.7 L189.1,664.2 L189.9,661.6 L190.7,659.7 L191.5,658.8 L192.3,658.1 L193.1,657.6 L193.9,657.5 L194.7,657.5 L195.5,657.5 L196.3,657.5 L197.1,657.6 L197.9,658.2 L198.7,658.8 L199.5,659.4 L200.3,659.9 L201.1,660.5 L201.9,661.2 L202.7,662.1 L203.5,663.1 L204.3,664.1 L205.1,665.1 L205.9,666.1 L206.7,667.4 L207.5,668.8 L208.3,670.2 L209.1,671.6 L209.9,673.0 L210.7,674.3 L211.5,675.6 L212.3,676.9 L213.1,678.2 L213.9,679.4 L214.7,679.7 L214.7,679.7 L213.9,679.7 L213.1,679.7 L212.3,679.7 L211.5,679.7 L210.7,679.7 L209.9,679.7 L209.1,679.7 L208.3,679.7 L207.5,679.7 L206.7,679.7 L205.9,679.7 L205.1,679.7 L204.3,679.7 L203.5,679.7 L202.7,679.7 L201.9,679.7 L201.1,679.7 L200.3,679.7 L199.5,679.7 L198.7,679.7 L197.9,679.7 L197.1,679.7 L196.3,679.7 L195.5,679.7 L194.7,679.7 L193.9,679.7 L193.1,679.7 L192.3,679.7 L191.5,679.7 L190.7,679.7 L189.9,679.7 L189.1,679.7 L188.3,679.7 L187.5,679.7 L186.7,679.7 L185.9,679.7 L185.1,679.7 L184.3,679.7 L183.5,679.7 L182.7,679.7 L181.9,679.7 L181.1,679.7 Z" fill="#e6edf8"/><path d="M156.30,656.50l24.20,24.20M159.00,656.50l24.20,24.20M161.70,656.50l24.20,24.20M164.40,656.50l24.20,24.20M167.10,656.50l24.20,24.20M169.80,656.50l24.20,24.20M172.50,656.50l24.20,24.20M175.20,656.50l24.20,24.20M177.90,656.50l24.20,24.20M180.60,656.50l24.20,24.20M183.30,656.50l24.20,24.20M186.00,656.50l24.20,24.20M188.70,656.50l24.20,24.20M191.40,656.50l24.20,24.20M194.10,656.50l24.20,24.20M196.80,656.50l24.20,24.20M199.50,656.50l24.20,24.20M202.20,656.50l24.20,24.20M204.90,656.50l24.20,24.20M207.60,656.50l24.20,24.20M210.30,656.50l24.20,24.20M213.00,656.50l24.20,24.20M215.70,656.50l24.20,24.20" stroke="#3a5092" stroke-width="0.9" fill="none"/></g>
<path d="M170.7,674.7 L171.1,674.7 L171.5,674.7 L171.9,674.7 L172.3,674.8 L172.7,674.8 L173.1,674.8 L173.5,674.8 L173.9,674.7 L174.3,674.7 L174.7,674.6 L175.1,674.5 L175.5,674.3 L175.9,674.0 L176.3,673.8 L176.7,673.5 L177.1,673.1 L177.5,672.5 L177.9,671.9 L178.3,671.0 L178.7,670.1 L179.1,669.3 L179.5,668.2 L179.9,666.9 L180.3,665.3 L180.7,663.5 L181.1,661.3 L181.5,658.3 L181.9,654.9 L182.3,651.2 L182.7,647.3 L183.1,643.4 L183.5,639.6 L183.9,635.8 L184.3,632.2 L184.7,628.8 L185.1,625.6 L185.5,622.6 L185.9,620.0 L186.3,617.9 L186.7,616.3 L187.1,615.2 L187.5,615.2 L187.9,616.2 L188.3,618.1 L188.7,620.7 L189.1,623.8 L189.5,627.3 L189.9,630.9 L190.3,634.6 L190.7,638.3 L191.1,641.9 L191.5,645.2 L191.9,647.9 L192.3,650.2 L192.7,651.9 L193.1,653.3 L193.5,654.5 L193.9,655.4 L194.3,656.1 L194.7,656.6 L195.1,656.9 L195.5,657.1 L195.9,657.3 L196.3,657.4 L196.7,657.4 L197.1,657.6 L197.5,657.8 L197.9,658.2 L197.9,658.2 L197.5,657.9 L197.1,657.6 L196.7,657.5 L196.3,657.5 L195.9,657.5 L195.5,657.5 L195.1,657.5 L194.7,657.5 L194.3,657.5 L193.9,657.5 L193.5,657.5 L193.1,657.6 L192.7,657.8 L192.3,658.1 L191.9,658.5 L191.5,658.8 L191.1,659.2 L190.7,659.7 L190.3,660.5 L189.9,661.6 L189.5,662.9 L189.1,664.2 L188.7,665.5 L188.3,666.7 L187.9,667.8 L187.5,668.9 L187.1,669.8 L186.7,670.7 L186.3,671.7 L185.9,672.6 L185.5,673.5 L185.1,674.4 L184.7,675.1 L184.3,675.7 L183.9,676.3 L183.5,676.8 L183.1,677.4 L182.7,678.0 L182.3,678.6 L181.9,679.1 L181.5,679.5 L181.1,679.7 L180.7,679.3 L180.3,678.7 L179.9,678.2 L179.5,677.6 L179.1,677.0 L178.7,676.5 L178.3,676.1 L177.9,676.0 L177.5,675.8 L177.1,675.6 L176.7,675.5 L176.3,675.3 L175.9,675.2 L175.5,675.2 L175.1,675.1 L174.7,675.1 L174.3,675.0 L173.9,675.0 L173.5,675.0 L173.1,674.9 L172.7,674.9 L172.3,674.8 L171.9,674.8 L171.5,674.8 L171.1,674.7 L170.7,674.7 Z" fill="#f00000"/>
<polyline points="164.3,663.1 165.1,664.9 165.9,669.7 166.7,671.2 167.5,672.3 168.3,672.9 169.1,673.1 169.9,673.8 170.7,674.2 171.5,673.8 172.3,673.8 173.1,673.9 173.9,674.6 174.7,674.0 175.5,674.3 176.3,673.4 177.1,672.4 177.9,671.8 178.7,669.9 179.5,667.6 180.3,664.9 181.1,660.7 181.9,655.0 182.7,646.9 183.5,639.2 184.3,631.5 185.1,624.6 185.9,614.8 186.7,600.5 187.5,587.1 188.3,587.4 189.1,601.6 189.9,620.1 190.7,634.3 191.5,644.2 192.3,650.0 193.1,653.4 193.9,654.9 194.7,655.5 195.5,655.4 196.3,655.6 197.1,656.0 197.9,655.9 198.7,656.4 199.5,656.8 200.3,657.1 201.1,657.9 201.9,657.7 202.7,656.3 203.5,655.8 204.3,656.3 205.1,659.1 205.9,662.6 206.7,667.3 207.5,668.5 208.3,670.0 209.1,671.1 209.9,672.6 210.7,673.7 211.5,675.3 212.3,676.7 213.1,677.9 213.9,679.1 214.7,679.4 215.5,679.4 216.3,679.4 217.1,679.4 217.9,679.4 218.7,679.4 219.5,679.4 220.3,679.4 221.1,679.4 221.9,679.4 222.7,679.4 223.5,679.4 224.3,679.4 225.1,679.4 225.9,679.4 226.7,679.4 227.5,679.4 228.3,679.4 229.1,679.4 229.9,679.4 230.7,679.4 231.5,679.4 232.3,679.4 233.1,679.4 233.9,679.4 234.7,679.4 235.5,679.4 236.3,679.4 237.1,679.4 237.9,679.4 238.7,679.4 239.5,679.4 240.3,679.4 241.1,679.4 241.9,679.4 242.7,679.4 243.5,679.4 244.3,679.4 245.1,679.4 245.9,679.4 246.7,679.4 247.5,679.4 248.3,679.4 249.1,679.4 249.9,679.4 250.7,679.4 251.5,679.4 252.3,679.4" fill="none" stroke="#111" stroke-width="0.95" stroke-linejoin="miter" stroke-miterlimit="20"/>
<text x="196.33" y="601.10" font-size="10.20" font-family='"Liberation Serif", serif' font-weight="bold" fill="#000" stroke="#000" stroke-width="0.2" textLength="75.77" lengthAdjust="spacingAndGlyphs">triptolide 10 nM</text>
<text x="196.33" y="613.80" font-size="10.60" font-family='"Liberation Serif", serif' font-weight="bold" fill="#000" stroke="#000" stroke-width="0.2" textLength="66.82" lengthAdjust="spacingAndGlyphs">Dox 40 ng/mL.</text>
<line x1="283.8" y1="581.3" x2="283.8" y2="680.3" stroke="#444" stroke-width="0.7" />
<line x1="282.90000000000003" y1="581.3" x2="282.90000000000003" y2="680.3" stroke="#333" stroke-width="1.0" stroke-dasharray="0.7 1.5"/>
<line x1="283.8" y1="680.3" x2="371.3" y2="680.3" stroke="#333" stroke-width="0.9" />
<line x1="283.8" y1="680.3" x2="283.8" y2="682.3" stroke="#444" stroke-width="0.6" />
<text x="283.8" y="686.5" font-size="3.4" font-family='"Liberation Serif", serif' font-weight="normal" fill="#333" text-anchor="middle" >0</text>
<line x1="301.1" y1="680.3" x2="301.1" y2="682.3" stroke="#444" stroke-width="0.6" />
<text x="301.1" y="686.5" font-size="3.4" font-family='"Liberation Serif", serif' font-weight="normal" fill="#333" text-anchor="middle" >50</text>
<line x1="318.40000000000003" y1="680.3" x2="318.40000000000003" y2="682.3" stroke="#444" stroke-width="0.6" />
<text x="318.40000000000003" y="686.5" font-size="3.4" font-family='"Liberation Serif", serif' font-weight="normal" fill="#333" text-anchor="middle" >100</text>
<line x1="335.7" y1="680.3" x2="335.7" y2="682.3" stroke="#444" stroke-width="0.6" />
<text x="335.7" y="686.5" font-size="3.4" font-family='"Liberation Serif", serif' font-weight="normal" fill="#333" text-anchor="middle" >150</text>
<line x1="353.0" y1="680.3" x2="353.0" y2="682.3" stroke="#444" stroke-width="0.6" />
<text x="353.0" y="686.5" font-size="3.4" font-family='"Liberation Serif", serif' font-weight="normal" fill="#333" text-anchor="middle" >200</text>
<line x1="370.3" y1="680.3" x2="370.3" y2="682.3" stroke="#444" stroke-width="0.6" />
<text x="370.3" y="686.5" font-size="3.4" font-family='"Liberation Serif", serif' font-weight="normal" fill="#333" text-anchor="middle" >250</text>
<line x1="283.8" y1="681.1999999999999" x2="371.3" y2="681.1999999999999" stroke="#444" stroke-width="0.9" stroke-dasharray="0.6 1.6"/>
<text x="326.55" y="690.5999999999999" font-size="4.0" font-family='"Liberation Serif", serif' font-weight="normal" fill="#222" text-anchor="middle" >Channels (FL2-A)</text>
<text x="278.2" y="630.8" font-size="3.6" font-family='"Liberation Serif", serif' font-weight="normal" fill="#444" text-anchor="middle" transform="rotate(-90 278.2 630.8)" >Number</text>
<text x="281.2" y="680.3" font-size="3.2" font-family='"Liberation Serif", serif' font-weight="normal" fill="#444" text-anchor="middle" transform="rotate(-90 281.2 680.3)" >0</text>
<text x="281.2" y="663.3" font-size="3.2" font-family='"Liberation Serif", serif' font-weight="normal" fill="#444" text-anchor="middle" transform="rotate(-90 281.2 663.3)" >100</text>
<text x="281.2" y="646.3" font-size="3.2" font-family='"Liberation Serif", serif' font-weight="normal" fill="#444" text-anchor="middle" transform="rotate(-90 281.2 646.3)" >200</text>
<text x="281.2" y="629.3" font-size="3.2" font-family='"Liberation Serif", serif' font-weight="normal" fill="#444" text-anchor="middle" transform="rotate(-90 281.2 629.3)" >300</text>
<text x="281.2" y="612.3" font-size="3.2" font-family='"Liberation Serif", serif' font-weight="normal" fill="#444" text-anchor="middle" transform="rotate(-90 281.2 612.3)" >400</text>
<text x="281.2" y="595.3" font-size="3.2" font-family='"Liberation Serif", serif' font-weight="normal" fill="#444" text-anchor="middle" transform="rotate(-90 281.2 595.3)" >500</text>
<path d="M285.9,680.3 L286.3,676.3 L286.7,676.3 L287.1,676.3 L287.5,676.3 L287.9,676.3 L288.3,676.3 L288.7,676.3 L289.1,676.3 L289.5,676.3 L289.9,676.3 L290.3,676.3 L290.7,676.3 L291.1,676.3 L291.5,676.3 L291.9,676.3 L292.3,676.3 L292.7,676.3 L293.1,676.3 L293.5,676.3 L293.9,676.3 L294.3,676.3 L294.7,676.3 L295.1,676.3 L295.5,676.3 L295.9,676.3 L296.3,676.3 L296.7,676.3 L297.1,676.3 L297.5,676.3 L297.9,676.3 L298.3,676.4 L298.7,676.6 L299.1,676.8 L299.5,677.0 L299.9,677.2 L300.3,677.8 L300.7,678.3 L301.1,679.0 L301.5,679.5 L301.9,680.1 L302.3,680.3 L302.3,680.3 L301.9,680.3 L301.5,680.3 L301.1,680.3 L300.7,680.3 L300.3,680.3 L299.9,680.3 L299.5,680.3 L299.1,680.3 L298.7,680.3 L298.3,680.3 L297.9,680.3 L297.5,680.3 L297.1,680.3 L296.7,680.3 L296.3,680.3 L295.9,680.3 L295.5,680.3 L295.1,680.3 L294.7,680.3 L294.3,680.3 L293.9,680.3 L293.5,680.3 L293.1,680.3 L292.7,680.3 L292.3,680.3 L291.9,680.3 L291.5,680.3 L291.1,680.3 L290.7,680.3 L290.3,680.3 L289.9,680.3 L289.5,680.3 L289.1,680.3 L288.7,680.3 L288.3,680.3 L287.9,680.3 L287.5,680.3 L287.1,680.3 L286.7,680.3 L286.3,680.3 L285.9,680.3 Z" fill="#a9c2ea"/>
<clipPath id="hc7"><path d="M309.9,680.3 L310.7,680.3 L311.5,679.7 L312.3,678.8 L313.1,677.8 L313.9,677.0 L314.7,676.7 L315.5,676.6 L316.3,676.5 L317.1,676.4 L317.9,676.3 L318.7,676.2 L319.5,676.1 L320.3,676.0 L321.1,675.9 L321.9,675.8 L322.7,675.8 L323.5,675.9 L324.3,675.9 L325.1,676.0 L325.9,676.0 L326.7,676.0 L327.5,676.1 L328.3,676.1 L329.1,676.2 L329.9,676.2 L330.7,676.2 L331.5,676.3 L332.3,676.4 L333.1,676.6 L333.9,676.8 L334.7,677.0 L335.5,677.2 L336.3,677.4 L337.1,677.6 L337.9,677.8 L338.7,678.2 L339.5,678.7 L340.3,679.2 L341.1,679.7 L341.9,680.2 L342.7,680.3 L342.7,680.3 L341.9,680.3 L341.1,680.3 L340.3,680.3 L339.5,680.3 L338.7,680.3 L337.9,680.3 L337.1,680.3 L336.3,680.3 L335.5,680.3 L334.7,680.3 L333.9,680.3 L333.1,680.3 L332.3,680.3 L331.5,680.3 L330.7,680.3 L329.9,680.3 L329.1,680.3 L328.3,680.3 L327.5,680.3 L326.7,680.3 L325.9,680.3 L325.1,680.3 L324.3,680.3 L323.5,680.3 L322.7,680.3 L321.9,680.3 L321.1,680.3 L320.3,680.3 L319.5,680.3 L318.7,680.3 L317.9,680.3 L317.1,680.3 L316.3,680.3 L315.5,680.3 L314.7,680.3 L313.9,680.3 L313.1,680.3 L312.3,680.3 L311.5,680.3 L310.7,680.3 L309.9,680.3 Z"/></clipPath>
<g clip-path="url(#hc7)"><path d="M309.9,680.3 L310.7,680.3 L311.5,679.7 L312.3,678.8 L313.1,677.8 L313.9,677.0 L314.7,676.7 L315.5,676.6 L316.3,676.5 L317.1,676.4 L317.9,676.3 L318.7,676.2 L319.5,676.1 L320.3,676.0 L321.1,675.9 L321.9,675.8 L322.7,675.8 L323.5,675.9 L324.3,675.9 L325.1,676.0 L325.9,676.0 L326.7,676.0 L327.5,676.1 L328.3,676.1 L329.1,676.2 L329.9,676.2 L330.7,676.2 L331.5,676.3 L332.3,676.4 L333.1,676.6 L333.9,676.8 L334.7,677.0 L335.5,677.2 L336.3,677.4 L337.1,677.6 L337.9,677.8 L338.7,678.2 L339.5,678.7 L340.3,679.2 L341.1,679.7 L341.9,680.2 L342.7,680.3 L342.7,680.3 L341.9,680.3 L341.1,680.3 L340.3,680.3 L339.5,680.3 L338.7,680.3 L337.9,680.3 L337.1,680.3 L336.3,680.3 L335.5,680.3 L334.7,680.3 L333.9,680.3 L333.1,680.3 L332.3,680.3 L331.5,680.3 L330.7,680.3 L329.9,680.3 L329.1,680.3 L328.3,680.3 L327.5,680.3 L326.7,680.3 L325.9,680.3 L325.1,680.3 L324.3,680.3 L323.5,680.3 L322.7,680.3 L321.9,680.3 L321.1,680.3 L320.3,680.3 L319.5,680.3 L318.7,680.3 L317.9,680.3 L317.1,680.3 L316.3,680.3 L315.5,680.3 L314.7,680.3 L313.9,680.3 L313.1,680.3 L312.3,680.3 L311.5,680.3 L310.7,680.3 L309.9,680.3 Z" fill="#e6edf8"/><path d="M303.22,674.82l6.48,6.48M305.92,674.82l6.48,6.48M308.62,674.82l6.48,6.48M311.32,674.82l6.48,6.48M314.02,674.82l6.48,6.48M316.72,674.82l6.48,6.48M319.42,674.82l6.48,6.48M322.12,674.82l6.48,6.48M324.82,674.82l6.48,6.48M327.52,674.82l6.48,6.48M330.22,674.82l6.48,6.48M332.92,674.82l6.48,6.48M335.62,674.82l6.48,6.48M338.32,674.82l6.48,6.48M341.02,674.82l6.48,6.48M343.72,674.82l6.48,6.48" stroke="#3a5092" stroke-width="0.9" fill="none"/></g>
<path d="M297.1,676.3 L297.5,676.3 L297.9,676.2 L298.3,676.3 L298.7,676.4 L299.1,676.5 L299.5,676.4 L299.9,676.3 L300.3,676.2 L300.7,676.1 L301.1,675.6 L301.5,674.7 L301.9,673.5 L302.3,671.4 L302.7,668.7 L303.1,665.6 L303.5,662.2 L303.9,658.8 L304.3,655.5 L304.7,652.5 L305.1,650.1 L305.5,648.5 L305.9,647.7 L306.3,648.0 L306.7,649.1 L307.1,651.0 L307.5,653.5 L307.9,656.5 L308.3,659.7 L308.7,663.0 L309.1,666.1 L309.5,669.0 L309.9,671.6 L310.3,673.8 L310.7,675.5 L311.1,676.7 L311.5,677.4 L311.9,677.7 L312.3,677.7 L312.7,677.7 L313.1,677.4 L313.5,677.1 L313.9,676.9 L314.3,676.7 L314.7,676.7 L315.1,676.6 L315.5,676.6 L315.5,676.6 L315.1,676.7 L314.7,676.7 L314.3,676.8 L313.9,677.0 L313.5,677.4 L313.1,677.8 L312.7,678.3 L312.3,678.8 L311.9,679.2 L311.5,679.7 L311.1,680.1 L310.7,680.3 L310.3,680.3 L309.9,680.3 L309.5,680.3 L309.1,680.3 L308.7,680.3 L308.3,680.3 L307.9,680.3 L307.5,680.3 L307.1,680.3 L306.7,680.3 L306.3,680.3 L305.9,680.3 L305.5,680.3 L305.1,680.3 L304.7,680.3 L304.3,680.3 L303.9,680.3 L303.5,680.3 L303.1,680.3 L302.7,680.3 L302.3,680.3 L301.9,680.1 L301.5,679.5 L301.1,679.0 L300.7,678.3 L300.3,677.8 L299.9,677.2 L299.5,677.0 L299.1,676.8 L298.7,676.6 L298.3,676.4 L297.9,676.3 L297.5,676.3 L297.1,676.3 Z" fill="#fff200"/>
<path d="M306.3,647.9 L306.7,649.0 L307.1,650.9 L307.5,653.3 L307.9,655.9 L308.3,658.2 L308.7,659.5 L309.1,658.9 L309.5,655.4 L309.9,648.0 L310.3,636.8 L310.7,622.8 L311.1,608.3 L311.5,596.7 L311.9,591.1 L312.3,592.9 L312.7,601.0 L313.1,613.7 L313.5,628.2 L313.9,642.3 L314.3,654.2 L314.7,663.1 L315.1,669.2 L315.5,672.8 L315.9,674.8 L316.3,675.7 L316.7,676.2 L317.1,676.3 L317.5,676.3 L317.9,676.3 L317.9,676.3 L317.5,676.4 L317.1,676.4 L316.7,676.5 L316.3,676.5 L315.9,676.6 L315.5,676.6 L315.1,676.6 L314.7,676.7 L314.3,676.7 L313.9,676.9 L313.5,677.1 L313.1,677.4 L312.7,677.7 L312.3,677.7 L311.9,677.7 L311.5,677.4 L311.1,676.7 L310.7,675.5 L310.3,673.8 L309.9,671.6 L309.5,669.0 L309.1,666.1 L308.7,663.0 L308.3,659.7 L307.9,656.5 L307.5,653.5 L307.1,651.0 L306.7,649.1 L306.3,648.0 Z" fill="#c00018"/>
<path d="M313.9,642.3 L314.3,654.2 L314.7,663.1 L315.1,669.1 L315.5,672.7 L315.9,674.7 L316.3,675.6 L316.7,676.0 L317.1,676.1 L317.5,676.1 L317.9,676.0 L318.3,675.8 L318.7,675.7 L319.1,675.5 L319.5,675.2 L319.9,675.0 L320.3,674.7 L320.7,674.3 L321.1,674.0 L321.5,673.5 L321.9,673.1 L322.3,672.6 L322.7,672.1 L323.1,671.6 L323.5,671.0 L323.9,670.4 L324.3,669.8 L324.7,669.2 L325.1,668.6 L325.5,668.0 L325.9,667.5 L326.3,667.0 L326.7,666.6 L327.1,666.3 L327.5,666.0 L327.9,665.9 L328.3,665.8 L328.7,665.8 L329.1,666.0 L329.5,666.2 L329.9,666.5 L330.3,666.9 L330.7,667.4 L331.1,667.9 L331.5,668.4 L331.9,669.0 L332.3,669.7 L332.7,670.4 L333.1,671.1 L333.5,671.7 L333.9,672.4 L334.3,673.0 L334.7,673.6 L335.1,674.2 L335.5,674.7 L335.9,675.2 L336.3,675.6 L336.7,676.0 L337.1,676.4 L337.5,676.7 L337.9,677.0 L338.3,677.4 L338.7,677.7 L339.1,678.1 L339.5,678.4 L339.9,678.7 L340.3,679.1 L340.7,679.3 L341.1,679.6 L341.5,679.9 L341.9,680.1 L342.3,680.2 L342.7,680.3 L343.1,680.3 L343.5,680.3 L343.5,680.3 L343.1,680.3 L342.7,680.3 L342.3,680.3 L341.9,680.2 L341.5,680.0 L341.1,679.7 L340.7,679.5 L340.3,679.2 L339.9,679.0 L339.5,678.7 L339.1,678.5 L338.7,678.2 L338.3,678.0 L337.9,677.8 L337.5,677.7 L337.1,677.6 L336.7,677.5 L336.3,677.4 L335.9,677.3 L335.5,677.2 L335.1,677.1 L334.7,677.0 L334.3,676.9 L333.9,676.8 L333.5,676.7 L333.1,676.6 L332.7,676.5 L332.3,676.4 L331.9,676.3 L331.5,676.3 L331.1,676.3 L330.7,676.2 L330.3,676.2 L329.9,676.2 L329.5,676.2 L329.1,676.2 L328.7,676.1 L328.3,676.1 L327.9,676.1 L327.5,676.1 L327.1,676.1 L326.7,676.0 L326.3,676.0 L325.9,676.0 L325.5,676.0 L325.1,676.0 L324.7,675.9 L324.3,675.9 L323.9,675.9 L323.5,675.9 L323.1,675.9 L322.7,675.8 L322.3,675.8 L321.9,675.8 L321.5,675.9 L321.1,675.9 L320.7,676.0 L320.3,676.0 L319.9,676.1 L319.5,676.1 L319.1,676.2 L318.7,676.2 L318.3,676.3 L317.9,676.3 L317.5,676.3 L317.1,676.3 L316.7,676.2 L316.3,675.7 L315.9,674.8 L315.5,672.8 L315.1,669.2 L314.7,663.1 L314.3,654.2 L313.9,642.3 Z" fill="#fff200"/>
<path d="M332.3,669.7 L332.7,670.3 L333.1,671.0 L333.5,671.6 L333.9,672.2 L334.3,672.7 L334.7,673.1 L335.1,673.4 L335.5,673.5 L335.9,673.3 L336.3,673.0 L336.7,672.4 L337.1,671.6 L337.5,670.6 L337.9,669.6 L338.3,668.6 L338.7,667.9 L339.1,667.4 L339.5,667.3 L339.9,667.6 L340.3,668.3 L340.7,669.3 L341.1,670.5 L341.5,671.9 L341.9,673.3 L342.3,674.7 L342.7,675.9 L343.1,676.9 L343.5,677.8 L343.9,678.5 L344.3,679.0 L344.7,679.5 L345.1,679.7 L345.5,680.0 L345.9,680.1 L346.3,680.2 L346.7,680.2 L347.1,680.3 L347.5,680.3 L347.9,680.3 L347.9,680.3 L347.5,680.3 L347.1,680.3 L346.7,680.3 L346.3,680.3 L345.9,680.3 L345.5,680.3 L345.1,680.3 L344.7,680.3 L344.3,680.3 L343.9,680.3 L343.5,680.3 L343.1,680.3 L342.7,680.3 L342.3,680.2 L341.9,680.1 L341.5,679.9 L341.1,679.6 L340.7,679.3 L340.3,679.1 L339.9,678.7 L339.5,678.4 L339.1,678.1 L338.7,677.7 L338.3,677.4 L337.9,677.0 L337.5,676.7 L337.1,676.4 L336.7,676.0 L336.3,675.6 L335.9,675.2 L335.5,674.7 L335.1,674.2 L334.7,673.6 L334.3,673.0 L333.9,672.4 L333.5,671.7 L333.1,671.1 L332.7,670.4 L332.3,669.7 Z" fill="#f00000"/>
<polyline points="284.3,668.7 285.1,668.4 285.9,679.5 286.7,673.8 287.5,675.5 288.3,675.6 289.1,675.9 289.9,675.2 290.7,675.8 291.5,675.1 292.3,675.6 293.1,676.0 293.9,675.7 294.7,675.9 295.5,675.2 296.3,675.4 297.1,675.6 297.9,675.9 298.7,675.8 299.5,675.9 300.3,675.9 301.1,675.5 301.9,673.0 302.7,668.3 303.5,661.5 304.3,654.7 305.1,647.2 305.9,640.5 306.7,640.9 307.5,648.5 308.3,656.7 309.1,658.7 309.9,647.6 310.7,622.5 311.5,596.0 312.3,592.4 313.1,613.2 313.9,641.5 314.7,663.0 315.5,667.7 316.3,667.8 317.1,668.0 317.9,667.2 318.7,666.2 319.5,663.8 320.3,662.6 321.1,661.0 321.9,659.8 322.7,659.4 323.5,658.1 324.3,658.0 325.1,657.2 325.9,656.1 326.7,655.5 327.5,654.6 328.3,651.4 329.1,654.9 329.9,655.3 330.7,656.3 331.5,656.8 332.3,658.6 333.1,660.5 333.9,659.7 334.7,659.7 335.5,659.0 336.3,658.6 337.1,658.0 337.9,656.3 338.7,656.3 339.5,660.4 340.3,663.4 341.1,666.8 341.9,669.1 342.7,672.1 343.5,674.9 344.3,676.6 345.1,677.8 345.9,678.5 346.7,679.6 347.5,680.0 348.3,680.0 349.1,680.0 349.9,680.0 350.7,680.0 351.5,680.0 352.3,680.0 353.1,680.0 353.9,680.0 354.7,680.0 355.5,680.0 356.3,680.0 357.1,680.0 357.9,680.0 358.7,680.0 359.5,680.0 360.3,680.0 361.1,680.0 361.9,680.0 362.7,680.0 363.5,680.0 364.3,680.0 365.1,680.0 365.9,680.0 366.7,680.0 367.5,680.0 368.3,680.0 369.1,680.0 369.9,680.0" fill="none" stroke="#111" stroke-width="0.95" stroke-linejoin="miter" stroke-miterlimit="20"/>
<text x="319.72" y="606.40" font-size="10.40" font-family='"Liberation Serif", serif' font-weight="bold" fill="#000" stroke="#000" stroke-width="0.2" textLength="77.28" lengthAdjust="spacingAndGlyphs">triptolide 10 nM</text>
<text x="319.63" y="618.50" font-size="10.00" font-family='"Liberation Serif", serif' font-weight="bold" fill="#000" stroke="#000" stroke-width="0.2" textLength="57.07" lengthAdjust="spacingAndGlyphs">gemtuzumab</text>
<text x="319.51" y="630.40" font-size="10.00" font-family='"Liberation Serif", serif' font-weight="bold" fill="#000" stroke="#000" stroke-width="0.2" textLength="49.44" lengthAdjust="spacingAndGlyphs">ozogamicin</text>
<text x="372.56" y="630.40" font-size="10.60" font-family='"Liberation Serif", serif' font-weight="bold" fill="#000" stroke="#000" stroke-width="0.2" textLength="12.31" lengthAdjust="spacingAndGlyphs">30</text>
<text x="319.64" y="642.70" font-size="10.30" font-family='"Liberation Serif", serif' font-weight="bold" fill="#000" stroke="#000" stroke-width="0.2" textLength="30.88" lengthAdjust="spacingAndGlyphs">ng/mL.</text>
<line x1="405.8" y1="582.5" x2="405.8" y2="681.2" stroke="#444" stroke-width="0.7" />
<line x1="404.90000000000003" y1="582.5" x2="404.90000000000003" y2="681.2" stroke="#333" stroke-width="1.0" stroke-dasharray="0.7 1.5"/>
<line x1="405.8" y1="681.2" x2="497.5" y2="681.2" stroke="#333" stroke-width="0.9" />
<line x1="405.8" y1="681.2" x2="405.8" y2="683.2" stroke="#444" stroke-width="0.6" />
<text x="405.8" y="687.4000000000001" font-size="3.4" font-family='"Liberation Serif", serif' font-weight="normal" fill="#333" text-anchor="middle" >0</text>
<line x1="423.94" y1="681.2" x2="423.94" y2="683.2" stroke="#444" stroke-width="0.6" />
<text x="423.94" y="687.4000000000001" font-size="3.4" font-family='"Liberation Serif", serif' font-weight="normal" fill="#333" text-anchor="middle" >50</text>
<line x1="442.08" y1="681.2" x2="442.08" y2="683.2" stroke="#444" stroke-width="0.6" />
<text x="442.08" y="687.4000000000001" font-size="3.4" font-family='"Liberation Serif", serif' font-weight="normal" fill="#333" text-anchor="middle" >100</text>
<line x1="460.22" y1="681.2" x2="460.22" y2="683.2" stroke="#444" stroke-width="0.6" />
<text x="460.22" y="687.4000000000001" font-size="3.4" font-family='"Liberation Serif", serif' font-weight="normal" fill="#333" text-anchor="middle" >150</text>
<line x1="478.36" y1="681.2" x2="478.36" y2="683.2" stroke="#444" stroke-width="0.6" />
<text x="478.36" y="687.4000000000001" font-size="3.4" font-family='"Liberation Serif", serif' font-weight="normal" fill="#333" text-anchor="middle" >200</text>
<line x1="496.5" y1="681.2" x2="496.5" y2="683.2" stroke="#444" stroke-width="0.6" />
<text x="496.5" y="687.4000000000001" font-size="3.4" font-family='"Liberation Serif", serif' font-weight="normal" fill="#333" text-anchor="middle" >250</text>
<line x1="405.8" y1="682.1" x2="497.5" y2="682.1" stroke="#444" stroke-width="0.9" stroke-dasharray="0.6 1.6"/>
<text x="450.65" y="691.5" font-size="4.0" font-family='"Liberation Serif", serif' font-weight="normal" fill="#222" text-anchor="middle" >Channels (FL2-A)</text>
<text x="400.2" y="631.85" font-size="3.6" font-family='"Liberation Serif", serif' font-weight="normal" fill="#444" text-anchor="middle" transform="rotate(-90 400.2 631.85)" >Number</text>
<text x="403.2" y="681.2" font-size="3.2" font-family='"Liberation Serif", serif' font-weight="normal" fill="#444" text-anchor="middle" transform="rotate(-90 403.2 681.2)" >0</text>
<text x="403.2" y="664.2" font-size="3.2" font-family='"Liberation Serif", serif' font-weight="normal" fill="#444" text-anchor="middle" transform="rotate(-90 403.2 664.2)" >100</text>
<text x="403.2" y="647.2" font-size="3.2" font-family='"Liberation Serif", serif' font-weight="normal" fill="#444" text-anchor="middle" transform="rotate(-90 403.2 647.2)" >200</text>
<text x="403.2" y="630.2" font-size="3.2" font-family='"Liberation Serif", serif' font-weight="normal" fill="#444" text-anchor="middle" transform="rotate(-90 403.2 630.2)" >300</text>
<text x="403.2" y="613.2" font-size="3.2" font-family='"Liberation Serif", serif' font-weight="normal" fill="#444" text-anchor="middle" transform="rotate(-90 403.2 613.2)" >400</text>
<text x="403.2" y="596.2" font-size="3.2" font-family='"Liberation Serif", serif' font-weight="normal" fill="#444" text-anchor="middle" transform="rotate(-90 403.2 596.2)" >500</text>
<clipPath id="hc8"><path d="M427.1,681.2 L427.9,680.0 L428.7,677.5 L429.5,675.0 L430.3,672.5 L431.1,670.0 L431.9,667.5 L432.7,665.2 L433.5,662.9 L434.3,660.6 L435.1,658.3 L435.9,656.2 L436.7,654.8 L437.5,653.9 L438.3,652.9 L439.1,651.9 L439.9,651.1 L440.7,651.2 L441.5,651.7 L442.3,652.1 L443.1,652.6 L443.9,653.1 L444.7,653.5 L445.5,654.2 L446.3,654.9 L447.1,655.7 L447.9,656.5 L448.7,657.3 L449.5,658.0 L450.3,659.0 L451.1,660.2 L451.9,661.4 L452.7,662.7 L453.5,663.9 L454.3,665.1 L455.1,666.5 L455.9,668.3 L456.7,670.2 L457.5,672.0 L458.3,674.0 L459.1,676.1 L459.9,678.3 L460.7,680.3 L461.5,681.2 L461.5,681.2 L460.7,681.2 L459.9,681.2 L459.1,681.2 L458.3,681.2 L457.5,681.2 L456.7,681.2 L455.9,681.2 L455.1,681.2 L454.3,681.2 L453.5,681.2 L452.7,681.2 L451.9,681.2 L451.1,681.2 L450.3,681.2 L449.5,681.2 L448.7,681.2 L447.9,681.2 L447.1,681.2 L446.3,681.2 L445.5,681.2 L444.7,681.2 L443.9,681.2 L443.1,681.2 L442.3,681.2 L441.5,681.2 L440.7,681.2 L439.9,681.2 L439.1,681.2 L438.3,681.2 L437.5,681.2 L436.7,681.2 L435.9,681.2 L435.1,681.2 L434.3,681.2 L433.5,681.2 L432.7,681.2 L431.9,681.2 L431.1,681.2 L430.3,681.2 L429.5,681.2 L428.7,681.2 L427.9,681.2 L427.1,681.2 Z"/></clipPath>
<g clip-path="url(#hc8)"><path d="M427.1,681.2 L427.9,680.0 L428.7,677.5 L429.5,675.0 L430.3,672.5 L431.1,670.0 L431.9,667.5 L432.7,665.2 L433.5,662.9 L434.3,660.6 L435.1,658.3 L435.9,656.2 L436.7,654.8 L437.5,653.9 L438.3,652.9 L439.1,651.9 L439.9,651.1 L440.7,651.2 L441.5,651.7 L442.3,652.1 L443.1,652.6 L443.9,653.1 L444.7,653.5 L445.5,654.2 L446.3,654.9 L447.1,655.7 L447.9,656.5 L448.7,657.3 L449.5,658.0 L450.3,659.0 L451.1,660.2 L451.9,661.4 L452.7,662.7 L453.5,663.9 L454.3,665.1 L455.1,666.5 L455.9,668.3 L456.7,670.2 L457.5,672.0 L458.3,674.0 L459.1,676.1 L459.9,678.3 L460.7,680.3 L461.5,681.2 L461.5,681.2 L460.7,681.2 L459.9,681.2 L459.1,681.2 L458.3,681.2 L457.5,681.2 L456.7,681.2 L455.9,681.2 L455.1,681.2 L454.3,681.2 L453.5,681.2 L452.7,681.2 L451.9,681.2 L451.1,681.2 L450.3,681.2 L449.5,681.2 L448.7,681.2 L447.9,681.2 L447.1,681.2 L446.3,681.2 L445.5,681.2 L444.7,681.2 L443.9,681.2 L443.1,681.2 L442.3,681.2 L441.5,681.2 L440.7,681.2 L439.9,681.2 L439.1,681.2 L438.3,681.2 L437.5,681.2 L436.7,681.2 L435.9,681.2 L435.1,681.2 L434.3,681.2 L433.5,681.2 L432.7,681.2 L431.9,681.2 L431.1,681.2 L430.3,681.2 L429.5,681.2 L428.7,681.2 L427.9,681.2 L427.1,681.2 Z" fill="#e6edf8"/><path d="M394.33,650.03l32.17,32.17M397.03,650.03l32.17,32.17M399.73,650.03l32.17,32.17M402.43,650.03l32.17,32.17M405.13,650.03l32.17,32.17M407.83,650.03l32.17,32.17M410.53,650.03l32.17,32.17M413.23,650.03l32.17,32.17M415.93,650.03l32.17,32.17M418.63,650.03l32.17,32.17M421.33,650.03l32.17,32.17M424.03,650.03l32.17,32.17M426.73,650.03l32.17,32.17M429.43,650.03l32.17,32.17M432.13,650.03l32.17,32.17M434.83,650.03l32.17,32.17M437.53,650.03l32.17,32.17M440.23,650.03l32.17,32.17M442.93,650.03l32.17,32.17M445.63,650.03l32.17,32.17M448.33,650.03l32.17,32.17M451.03,650.03l32.17,32.17M453.73,650.03l32.17,32.17M456.43,650.03l32.17,32.17M459.13,650.03l32.17,32.17M461.83,650.03l32.17,32.17" stroke="#3a5092" stroke-width="0.9" fill="none"/></g>
<path d="M424.7,681.2 L425.1,681.2 L425.5,681.1 L425.9,681.0 L426.3,680.9 L426.7,680.7 L427.1,680.3 L427.5,679.2 L427.9,677.5 L428.3,674.9 L428.7,671.7 L429.1,668.0 L429.5,663.6 L429.9,658.7 L430.3,653.4 L430.7,647.9 L431.1,642.6 L431.5,637.9 L431.9,634.1 L432.3,631.6 L432.7,630.5 L433.1,631.4 L433.5,634.1 L433.9,637.9 L434.3,642.0 L434.7,645.9 L435.1,649.0 L435.5,651.1 L435.9,652.5 L436.3,653.3 L436.7,653.7 L437.1,653.8 L437.5,653.6 L437.9,653.3 L438.3,652.8 L438.7,652.4 L438.7,652.4 L438.3,652.9 L437.9,653.4 L437.5,653.9 L437.1,654.4 L436.7,654.8 L436.3,655.4 L435.9,656.2 L435.5,657.1 L435.1,658.3 L434.7,659.4 L434.3,660.6 L433.9,661.7 L433.5,662.9 L433.1,664.0 L432.7,665.2 L432.3,666.3 L431.9,667.5 L431.5,668.8 L431.1,670.0 L430.7,671.2 L430.3,672.5 L429.9,673.7 L429.5,675.0 L429.1,676.2 L428.7,677.5 L428.3,678.7 L427.9,680.0 L427.5,680.8 L427.1,681.2 L426.7,681.2 L426.3,681.2 L425.9,681.2 L425.5,681.2 L425.1,681.2 L424.7,681.2 Z" fill="#f00000"/>
<polyline points="406.3,680.9 407.1,668.0 407.9,672.2 408.7,675.6 409.5,677.1 410.3,677.5 411.1,678.1 411.9,677.8 412.7,678.4 413.5,678.3 414.3,677.7 415.1,678.5 415.9,677.6 416.7,678.0 417.5,677.9 418.3,677.9 419.1,678.0 419.9,678.0 420.7,678.5 421.5,678.1 422.3,677.7 423.1,677.9 423.9,678.3 424.7,677.3 425.5,676.9 426.3,677.0 427.1,677.0 427.9,674.0 428.7,670.8 429.5,663.3 430.3,652.4 431.1,639.3 431.9,622.7 432.7,609.9 433.5,615.8 434.3,632.0 435.1,640.1 435.9,640.0 436.7,640.1 437.5,641.2 438.3,642.9 439.1,640.7 439.9,637.2 440.7,637.9 441.5,641.0 442.3,642.6 443.1,644.4 443.9,645.5 444.7,646.2 445.5,647.1 446.3,648.6 447.1,650.2 447.9,651.4 448.7,653.3 449.5,655.3 450.3,656.7 451.1,658.5 451.9,659.4 452.7,661.0 453.5,662.1 454.3,664.3 455.1,665.3 455.9,667.1 456.7,669.0 457.5,672.0 458.3,673.5 459.1,675.9 459.9,677.5 460.7,679.0 461.5,680.0 462.3,680.9 463.1,680.9 463.9,680.9 464.7,680.9 465.5,680.9 466.3,680.9 467.1,680.9 467.9,680.9 468.7,680.9 469.5,680.9 470.3,680.9 471.1,680.9 471.9,680.9 472.7,680.9 473.5,680.9 474.3,680.9 475.1,680.9 475.9,680.9 476.7,680.9 477.5,680.9 478.3,680.9 479.1,680.9 479.9,680.9 480.7,680.9 481.5,680.9 482.3,680.9 483.1,680.9 483.9,680.9 484.7,680.9 485.5,680.9 486.3,680.9 487.1,680.9 487.9,680.9 488.7,680.9 489.5,680.9 490.3,680.9 491.1,680.9 491.9,680.9 492.7,680.9 493.5,680.9 494.3,680.9 495.1,680.9 495.9,680.9" fill="none" stroke="#111" stroke-width="0.95" stroke-linejoin="miter" stroke-miterlimit="20"/>
<line x1="433.1" y1="594" x2="433.1" y2="611" stroke="#555" stroke-width="0.8" stroke-dasharray="1 1"/>
<text x="441.72" y="606.20" font-size="10.40" font-family='"Liberation Serif", serif' font-weight="bold" fill="#000" stroke="#000" stroke-width="0.2" textLength="76.98" lengthAdjust="spacingAndGlyphs">triptolide 10 nM</text>
<text x="441.81" y="618.80" font-size="10.50" font-family='"Liberation Serif", serif' font-weight="bold" fill="#000" stroke="#000" stroke-width="0.2" textLength="65.90" lengthAdjust="spacingAndGlyphs">Ara-C 0.6 μM</text>
<text x="22.20" y="606.94" font-size="12.97" font-family='"Liberation Serif", serif' font-weight="bold" fill="#000" stroke="#000" stroke-width="0.2" textLength="51.63" lengthAdjust="spacingAndGlyphs" transform="rotate(-90 22.20 606.94)">Numbers</text>
<rect x="501" y="719" width="1.2" height="2.2" fill="#777" />
<text x="219.29" y="719.00" font-size="13.00" font-family='"Liberation Serif", serif' font-weight="bold" fill="#000" stroke="#000" stroke-width="0.2" textLength="73.46" lengthAdjust="spacingAndGlyphs">DNA content</text>
</svg>
</body></html>
